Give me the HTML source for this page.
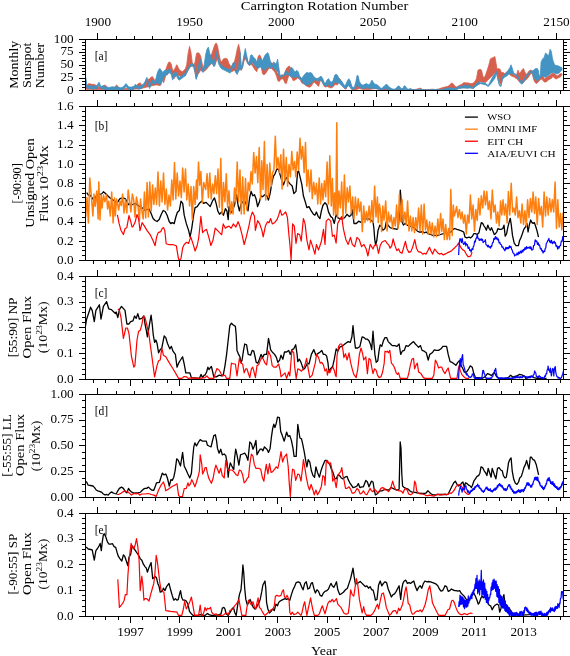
<!DOCTYPE html>
<html><head><meta charset="utf-8"><style>
html,body{margin:0;padding:0;background:#fff;width:570px;height:656px;overflow:hidden}
svg{display:block;will-change:transform;opacity:0.999}
text{font-family:"Liberation Serif",serif;fill:#000}
</style></head><body>
<svg width="570" height="656" viewBox="0 0 570 656">
<rect width="570" height="656" fill="#fff"/>
<clipPath id="cpa"><rect x="85.5" y="39.44" width="478.20" height="50.96"/></clipPath>
<clipPath id="cpb"><rect x="85.5" y="106.5" width="478.20" height="154.00"/></clipPath>
<clipPath id="cpc"><rect x="85.5" y="276.4" width="478.20" height="102.90"/></clipPath>
<clipPath id="cpd"><rect x="85.5" y="394.4" width="478.20" height="103.10"/></clipPath>
<clipPath id="cpe"><rect x="85.5" y="513.3" width="478.20" height="103.10"/></clipPath>
<g clip-path="url(#cpa)">
<path d="M85.5,84.3 L86.4,86.4 L87.8,84.3 L89.2,83.6 L91.3,84.3 L93.4,84.3 L95.5,85.0 L97.6,86.4 L99.0,87.1 L101.1,87.8 L103.2,85.7 L105.4,85.0 L106.8,87.1 L108.2,88.5 L110.3,88.8 L113.1,88.5 L115.2,86.4 L116.6,85.0 L118.0,86.4 L120.1,88.5 L122.9,88.8 L125.7,88.5 L128.5,88.5 L131.3,88.5 L134.1,87.8 L136.2,85.7 L138.3,83.6 L140.4,82.9 L141.8,85.7 L143.2,86.4 L144.6,83.6 L146.8,80.1 L148.2,79.4 L149.6,78.7 L151.0,77.3 L152.4,76.6 L153.8,78.7 L155.2,81.5 L156.6,81.5 L158.0,80.1 L159.4,78.7 L160.0,70.3 L160.8,78.0 L161.4,75.9 L162.2,76.6 L162.8,74.5 L163.6,75.2 L164.2,71.7 L165.6,70.3 L167.0,66.1 L168.4,62.6 L169.8,61.9 L171.2,64.0 L172.6,70.3 L174.0,70.3 L175.4,67.5 L176.8,64.7 L178.2,67.5 L179.6,70.3 L181.1,71.0 L182.5,71.7 L183.9,70.3 L185.3,68.9 L186.7,64.7 L188.1,53.4 L189.5,46.4 L190.9,52.0 L192.3,63.3 L193.7,66.1 L195.1,61.9 L196.5,53.4 L197.9,52.7 L199.3,53.4 L200.7,56.2 L202.1,63.3 L203.5,70.3 L204.9,68.9 L206.3,60.5 L207.7,56.2 L209.1,57.6 L210.5,56.2 L211.9,53.4 L213.3,49.2 L214.7,45.0 L216.1,42.9 L217.5,45.7 L218.9,53.4 L220.4,60.5 L221.8,61.9 L223.2,59.1 L224.6,58.4 L226.0,58.4 L227.4,59.1 L228.8,63.3 L230.2,65.4 L231.6,67.5 L233.0,63.3 L234.4,61.9 L235.8,56.2 L237.2,49.2 L238.6,44.3 L240.0,50.6 L241.1,64.7 L242.1,67.5 L243.5,59.1 L244.9,54.1 L246.3,56.2 L247.7,61.2 L249.1,64.0 L250.5,59.1 L251.9,61.2 L253.3,64.7 L254.7,65.4 L256.1,66.8 L258.2,56.2 L259.6,54.8 L261.1,57.6 L262.5,62.6 L263.9,64.0 L265.3,66.1 L267.4,67.5 L269.5,64.7 L270.9,62.6 L272.6,63.3 L274.0,64.7 L275.4,68.2 L276.8,72.4 L278.2,73.8 L279.6,76.6 L281.0,75.2 L282.4,74.8 L283.8,75.9 L285.2,71.7 L286.6,68.2 L288.0,66.8 L289.4,66.1 L290.8,68.2 L292.2,72.4 L293.6,73.8 L295.0,75.2 L296.4,75.6 L297.8,75.2 L299.2,76.6 L300.6,77.3 L302.0,78.7 L303.9,79.4 L306.0,80.1 L308.1,80.8 L310.2,81.5 L312.3,80.1 L314.4,78.0 L316.5,78.7 L318.6,80.1 L320.0,78.0 L321.4,78.0 L322.8,80.1 L324.2,84.3 L325.6,84.3 L327.0,81.5 L328.7,80.1 L330.1,82.9 L331.9,83.6 L333.3,81.5 L334.7,77.3 L336.1,76.6 L337.5,77.3 L338.9,78.0 L340.4,79.4 L341.8,82.2 L343.2,85.0 L344.6,87.1 L346.0,86.4 L347.4,82.2 L348.8,80.1 L350.2,82.2 L351.6,87.1 L353.0,88.5 L354.4,88.5 L355.8,84.3 L357.2,78.0 L358.2,78.7 L359.3,83.6 L360.7,85.7 L362.1,86.4 L363.5,86.4 L364.9,85.7 L366.3,85.0 L367.7,85.7 L369.1,86.4 L370.5,84.3 L371.9,82.2 L373.3,84.3 L374.7,85.7 L376.1,85.7 L377.5,86.4 L378.9,87.4 L380.4,88.5 L381.8,89.2 L383.2,88.5 L384.6,87.1 L386.0,85.7 L387.4,86.4 L388.8,87.4 L390.2,88.5 L391.6,89.2 L393.0,89.6 L394.4,89.6 L395.8,89.2 L397.2,87.8 L398.6,86.4 L400.0,89.6 L414.0,89.6 L416.8,89.2 L419.6,88.2 L421.1,88.5 L422.5,89.6 L428.1,89.6 L432.3,89.2 L436.5,89.6 L439.3,88.8 L442.1,87.8 L444.9,87.1 L447.7,86.4 L449.8,85.0 L451.2,83.2 L452.6,83.2 L454.0,85.0 L455.4,86.4 L456.8,87.1 L458.9,85.7 L461.8,84.3 L463.9,82.6 L466.0,82.9 L468.1,82.9 L470.2,83.6 L472.3,83.6 L474.4,82.2 L476.5,78.7 L477.9,70.3 L479.3,69.6 L480.0,69.3 L481.5,70.1 L483.0,76.8 L484.5,77.5 L486.0,73.8 L487.5,69.3 L488.9,64.8 L490.4,58.9 L491.9,58.1 L493.4,57.4 L494.9,56.6 L496.1,63.4 L497.1,69.3 L498.6,68.6 L500.1,69.3 L501.6,73.0 L503.1,72.3 L504.6,73.8 L506.1,72.3 L507.6,71.6 L509.1,70.1 L510.6,72.3 L512.1,73.8 L513.6,74.5 L515.0,76.0 L516.5,75.3 L518.0,70.1 L519.5,73.8 L521.0,71.6 L522.5,69.3 L523.5,68.6 L524.7,71.6 L526.2,74.5 L527.7,73.0 L529.2,70.8 L530.7,70.1 L532.2,70.8 L533.7,73.8 L535.2,77.5 L536.7,78.3 L538.2,77.5 L539.6,78.3 L541.1,76.8 L542.6,75.3 L544.1,79.0 L545.6,78.3 L547.1,76.8 L548.6,76.0 L550.1,75.3 L551.6,73.8 L553.1,73.0 L554.6,73.8 L556.1,75.3 L557.5,76.0 L559.0,74.5 L560.5,73.8 L562.0,73.8 L562.0,74.5 L560.5,76.8 L559.0,77.5 L557.5,78.3 L556.1,79.0 L554.6,78.3 L553.1,76.0 L551.6,78.3 L550.1,79.0 L548.6,79.8 L547.1,81.2 L545.6,82.0 L544.1,82.0 L542.6,79.8 L541.1,79.0 L539.6,80.5 L538.2,82.0 L536.7,83.5 L535.2,82.7 L533.7,79.8 L532.2,73.0 L530.7,73.8 L529.2,76.0 L527.7,78.3 L526.2,79.8 L524.7,80.5 L523.2,82.7 L521.8,83.5 L520.3,82.7 L518.8,81.2 L517.3,79.0 L515.8,78.3 L514.3,77.1 L512.8,76.5 L511.3,76.0 L509.8,74.5 L508.3,73.0 L506.8,74.5 L505.4,76.0 L503.9,76.8 L502.4,79.0 L500.9,84.2 L499.4,82.7 L497.9,76.0 L496.4,72.3 L494.9,73.0 L493.4,74.5 L491.9,76.0 L490.4,77.5 L488.9,79.0 L487.5,80.5 L486.0,82.0 L484.5,82.7 L483.0,82.0 L481.5,82.0 L480.0,81.2 L479.3,84.3 L477.2,85.0 L474.4,86.4 L470.2,87.8 L463.2,87.8 L456.1,88.2 L449.1,88.8 L442.1,90.2 L400.0,90.2 L398.6,89.9 L390.2,89.9 L386.0,89.9 L381.8,89.9 L378.9,89.2 L376.1,88.5 L373.3,88.8 L369.1,89.6 L364.9,89.6 L362.1,89.2 L359.3,88.5 L356.5,89.6 L353.7,89.9 L351.6,89.2 L350.2,87.1 L348.8,84.3 L347.4,86.4 L346.0,89.2 L344.6,88.5 L343.2,86.4 L341.8,82.9 L340.4,81.5 L338.9,81.5 L337.5,85.0 L335.4,84.3 L333.3,86.4 L331.9,87.8 L329.8,87.8 L328.4,87.1 L327.0,86.4 L325.6,87.1 L324.2,86.4 L322.8,83.6 L321.4,80.1 L320.0,81.5 L318.6,86.4 L316.5,84.3 L314.4,82.2 L313.0,82.9 L311.6,85.7 L310.2,87.1 L308.8,87.1 L307.4,86.4 L306.0,85.7 L304.6,84.3 L303.2,83.6 L301.8,82.9 L300.4,80.1 L298.9,78.7 L297.5,78.0 L296.1,79.4 L294.7,80.1 L293.3,80.8 L291.9,78.0 L290.5,75.9 L289.1,75.2 L287.7,78.7 L286.3,83.6 L284.9,82.9 L283.5,79.4 L282.1,78.7 L280.7,79.4 L279.3,81.5 L277.9,80.8 L276.5,75.9 L275.1,72.4 L273.7,71.0 L272.3,68.9 L270.9,68.2 L269.5,68.2 L268.1,69.6 L266.7,71.7 L265.3,73.8 L263.9,74.8 L262.5,73.8 L261.1,66.1 L259.6,64.7 L258.2,66.1 L256.8,71.7 L255.4,70.3 L254.0,68.2 L252.6,66.1 L251.2,64.0 L249.8,65.4 L248.4,64.7 L247.0,61.9 L245.6,59.1 L244.2,60.5 L242.8,66.1 L241.4,70.3 L240.0,69.6 L238.6,70.3 L236.5,73.1 L234.4,70.3 L231.6,71.7 L228.8,71.0 L226.0,70.3 L223.2,68.2 L220.4,64.7 L217.5,57.6 L214.7,66.1 L211.9,63.3 L209.1,66.1 L206.3,69.6 L203.5,71.7 L200.7,70.3 L197.9,74.5 L196.2,78.7 L195.1,73.1 L193.7,66.1 L190.9,66.1 L188.1,70.3 L185.3,75.2 L182.5,75.9 L179.6,75.9 L176.8,74.5 L174.0,78.7 L171.2,72.4 L168.4,73.1 L165.6,75.9 L163.6,82.9 L162.8,78.7 L161.4,82.9 L160.8,85.0 L160.0,85.7 L158.0,85.0 L155.2,85.0 L152.4,85.7 L149.6,86.4 L146.8,87.1 L143.9,87.8 L141.1,88.5 L134.1,89.2 L127.1,89.6 L113.1,89.6 L99.0,89.6 L85.5,89.2 Z" fill="#d6604d" stroke="#d6604d" stroke-width="0.8" stroke-linejoin="round"/>
<path d="M85.7,77.3 L86.7,84.3 L87.8,86.4 L89.2,85.0 L90.6,85.7 L92.7,86.4 L94.8,85.7 L96.2,86.4 L97.6,84.3 L99.0,82.2 L100.2,85.0 L101.6,86.4 L103.0,85.7 L104.6,86.4 L106.8,87.1 L108.9,87.4 L111.0,87.1 L113.1,86.8 L115.2,87.4 L116.6,86.4 L118.0,87.1 L120.1,87.8 L122.2,87.4 L124.3,85.7 L126.0,83.6 L127.1,85.0 L129.2,87.1 L131.3,87.1 L133.4,86.4 L135.5,84.3 L137.2,86.0 L139.0,86.4 L141.1,85.7 L143.2,84.3 L145.1,81.5 L146.8,77.3 L148.2,81.5 L149.6,85.7 L151.0,82.2 L152.4,80.1 L154.5,81.5 L155.9,78.7 L157.3,73.1 L158.7,69.6 L160.0,68.5 L161.4,70.6 L162.9,72.7 L164.3,70.6 L165.6,70.0 L167.0,70.6 L168.4,69.6 L169.8,68.9 L171.2,71.0 L172.6,75.2 L174.0,73.8 L175.4,71.7 L176.8,73.1 L178.2,75.9 L179.6,77.3 L181.1,75.9 L182.5,75.2 L183.9,73.8 L185.3,73.1 L186.7,70.3 L188.1,68.2 L189.5,65.4 L190.9,64.0 L192.3,63.5 L193.7,64.0 L195.1,68.9 L196.2,75.9 L197.2,71.7 L198.6,66.1 L200.0,59.1 L201.4,66.1 L202.8,68.9 L204.2,64.7 L205.6,54.8 L207.0,49.2 L208.4,47.1 L209.8,53.4 L211.2,57.6 L212.6,60.5 L214.0,63.3 L215.4,56.2 L216.1,51.3 L217.3,54.8 L218.7,60.5 L220.1,64.0 L221.8,66.1 L223.2,66.1 L224.6,67.5 L226.0,68.2 L227.4,68.9 L228.8,69.6 L230.2,70.3 L231.6,66.1 L233.0,63.3 L234.4,62.6 L235.8,69.6 L237.2,71.7 L238.6,67.5 L240.0,52.0 L241.1,66.1 L242.1,68.2 L243.5,57.6 L245.3,48.5 L246.3,53.4 L247.7,60.5 L249.1,64.7 L250.5,55.5 L251.9,54.8 L253.3,56.9 L255.4,59.1 L256.8,61.9 L258.2,60.5 L259.6,57.6 L261.1,59.8 L262.5,60.5 L263.9,57.6 L265.3,54.8 L266.7,53.4 L267.8,52.7 L268.8,54.8 L269.8,59.1 L270.9,63.3 L272.3,65.4 L273.7,61.9 L275.1,63.3 L276.2,64.0 L277.6,59.1 L278.6,66.1 L280.0,75.2 L281.4,75.9 L282.8,75.2 L284.2,74.5 L285.6,71.0 L287.0,71.7 L288.4,73.8 L289.8,71.0 L291.2,67.5 L292.6,68.2 L294.0,71.0 L295.4,71.7 L296.8,70.3 L298.2,71.7 L299.6,75.9 L301.1,78.7 L302.5,77.3 L304.6,74.5 L306.7,72.4 L308.8,73.1 L310.2,72.4 L311.6,73.1 L313.0,75.2 L314.4,77.3 L316.5,78.7 L318.6,78.0 L320.0,76.6 L321.4,76.6 L322.8,78.7 L324.2,82.9 L325.6,82.9 L327.0,80.1 L328.7,78.7 L330.1,81.5 L331.9,82.2 L333.3,80.1 L334.7,75.2 L336.1,74.2 L337.5,75.2 L338.9,78.7 L340.4,80.1 L341.8,81.5 L343.2,83.6 L344.6,85.7 L346.0,84.3 L347.4,80.8 L348.8,78.7 L350.2,80.8 L351.6,85.7 L353.0,87.8 L354.4,87.1 L355.8,82.2 L357.2,75.2 L358.2,75.9 L359.3,81.5 L360.7,83.6 L362.1,85.0 L363.5,85.0 L364.9,84.3 L366.3,83.6 L367.7,84.3 L369.1,85.0 L370.5,82.9 L371.9,80.1 L373.3,82.2 L374.7,84.3 L376.1,84.3 L377.5,85.0 L378.9,86.4 L380.4,87.8 L381.8,88.5 L383.2,87.1 L384.6,85.7 L386.0,84.3 L387.4,85.0 L388.8,86.4 L390.2,87.8 L391.6,88.5 L393.0,89.2 L394.4,89.2 L395.8,88.5 L397.2,87.1 L398.6,85.7 L400.0,87.1 L401.4,88.5 L402.8,88.5 L404.2,85.7 L405.6,86.4 L407.0,88.8 L408.4,89.2 L410.5,88.5 L412.6,89.6 L415.4,89.9 L418.2,89.6 L421.1,89.2 L423.9,89.9 L428.1,89.9 L432.3,89.6 L435.1,89.6 L437.2,89.2 L439.3,89.9 L442.1,89.6 L444.9,88.8 L447.7,88.2 L450.5,87.8 L453.3,88.5 L456.1,88.2 L458.9,86.4 L461.8,86.4 L463.2,85.7 L464.6,85.0 L466.0,85.7 L467.4,86.4 L468.8,85.0 L470.2,85.7 L471.6,87.8 L473.0,87.1 L474.4,85.7 L475.8,84.3 L477.2,82.9 L478.6,82.2 L480.0,82.7 L483.0,82.7 L486.0,83.5 L488.2,85.7 L490.4,81.2 L492.7,76.8 L494.9,73.8 L496.4,71.6 L497.9,78.3 L499.4,84.2 L500.9,85.7 L502.4,76.8 L503.9,75.3 L505.4,73.8 L506.8,72.3 L508.3,70.1 L509.8,67.8 L511.0,64.8 L512.1,67.8 L513.6,73.0 L515.0,73.8 L516.5,74.5 L518.0,76.0 L519.5,79.0 L521.0,82.0 L522.5,81.2 L524.0,79.0 L525.5,76.8 L527.0,74.5 L528.5,73.0 L530.0,71.6 L531.4,71.6 L532.9,70.8 L534.4,69.3 L535.9,68.6 L537.4,68.6 L538.5,70.8 L539.3,77.5 L540.4,73.8 L541.1,61.9 L542.6,58.9 L544.1,57.4 L545.6,52.9 L547.1,54.4 L548.6,55.9 L550.1,49.2 L551.3,51.4 L552.3,57.4 L553.1,61.1 L554.6,64.8 L556.1,65.6 L557.5,65.6 L559.0,66.3 L560.5,67.1 L562.0,67.8 L562.0,70.1 L560.5,71.6 L559.0,73.0 L557.5,73.8 L556.1,73.8 L554.6,73.0 L553.1,72.3 L551.6,73.0 L550.1,73.8 L548.6,75.3 L547.1,76.0 L545.6,77.5 L544.1,76.8 L542.6,76.0 L541.1,76.8 L539.6,79.0 L538.2,79.8 L536.7,80.5 L535.2,79.8 L533.7,77.5 L532.2,72.3 L530.7,72.3 L529.2,73.8 L527.7,75.3 L526.2,77.5 L524.7,80.5 L523.2,82.7 L521.8,84.2 L520.3,82.7 L518.8,79.0 L517.3,76.8 L515.8,75.3 L514.3,74.5 L512.8,73.8 L511.3,73.8 L509.8,73.8 L508.3,74.5 L506.8,76.0 L505.4,76.8 L503.9,77.5 L502.4,79.8 L500.9,86.5 L499.4,85.7 L497.9,79.8 L496.4,73.0 L494.9,78.3 L492.7,81.2 L490.4,84.2 L488.2,86.5 L486.0,85.0 L483.0,84.2 L480.0,83.5 L478.6,84.3 L475.8,86.4 L473.0,88.8 L470.2,87.8 L467.4,88.2 L463.2,87.8 L458.9,88.5 L456.1,89.9 L447.7,89.9 L442.1,90.2 L428.1,90.2 L414.0,90.2 L408.4,90.2 L405.6,88.8 L402.8,90.2 L400.0,89.2 L398.6,89.2 L395.8,89.6 L393.0,89.9 L390.2,89.6 L387.4,89.2 L384.6,88.8 L381.8,89.6 L378.9,89.2 L376.1,88.8 L374.7,88.5 L373.3,88.2 L371.9,87.8 L370.5,88.5 L369.1,88.5 L367.7,87.8 L366.3,87.8 L364.9,88.5 L363.5,88.5 L362.1,88.5 L360.7,87.8 L359.3,87.1 L357.9,85.7 L356.5,85.7 L355.1,88.5 L353.7,89.2 L352.3,89.2 L350.9,88.5 L349.5,86.4 L348.1,85.7 L346.7,87.1 L345.3,88.5 L343.9,87.8 L342.5,86.4 L341.1,85.0 L339.6,83.6 L338.2,82.9 L336.8,82.9 L335.4,81.5 L334.0,82.9 L332.6,85.7 L331.2,86.4 L329.8,85.7 L328.4,84.3 L327.0,85.7 L325.6,86.4 L324.2,85.0 L322.8,82.9 L321.4,80.8 L320.0,80.1 L318.6,80.8 L316.5,80.8 L314.4,80.1 L313.0,80.8 L311.6,82.9 L310.2,84.3 L308.8,84.3 L307.4,85.0 L306.0,85.0 L304.6,84.3 L303.2,82.9 L301.8,80.8 L300.4,79.4 L298.9,78.0 L297.5,77.3 L296.1,76.6 L294.7,77.3 L293.3,77.3 L291.9,76.6 L290.5,76.6 L289.1,75.2 L287.7,74.5 L286.3,74.5 L284.9,75.2 L283.5,75.9 L282.1,76.6 L280.7,77.3 L279.3,75.9 L277.9,72.4 L276.5,70.3 L275.1,68.9 L273.7,68.9 L272.3,66.1 L270.9,68.2 L269.5,67.5 L268.1,66.8 L266.7,68.2 L265.3,69.6 L263.9,70.3 L262.5,68.9 L261.1,66.8 L259.6,67.5 L258.2,68.2 L256.8,67.5 L255.4,66.1 L254.0,64.7 L252.6,62.6 L251.2,61.9 L249.8,65.4 L248.4,64.0 L247.0,61.9 L245.6,54.8 L244.2,57.6 L242.8,66.1 L241.4,69.6 L240.0,68.9 L238.6,71.0 L237.2,74.5 L235.8,72.4 L234.4,66.1 L233.0,66.8 L231.6,69.6 L230.2,73.1 L228.8,72.4 L227.4,71.7 L226.0,71.0 L224.6,70.3 L223.2,69.6 L221.8,68.9 L220.1,66.8 L218.7,64.0 L217.3,58.4 L216.1,55.5 L215.4,60.5 L214.0,66.8 L212.6,64.0 L211.2,62.6 L209.8,64.7 L208.4,66.1 L207.0,67.5 L205.6,68.2 L204.2,69.6 L202.8,72.4 L201.4,69.6 L200.0,62.6 L198.6,70.3 L197.2,75.2 L196.2,79.4 L195.1,72.4 L193.7,66.8 L192.3,66.1 L190.9,66.1 L189.5,67.5 L188.1,70.3 L186.7,73.1 L185.3,75.9 L183.9,76.6 L182.5,78.0 L181.1,78.7 L179.6,80.1 L178.2,79.4 L176.8,76.6 L175.4,74.5 L174.0,77.3 L172.6,80.1 L171.2,74.5 L169.8,72.4 L168.4,73.1 L167.0,75.2 L165.6,73.8 L164.3,76.6 L162.9,79.4 L161.4,82.9 L160.0,84.7 L158.7,83.6 L157.3,82.9 L155.9,82.9 L154.5,84.3 L152.4,82.9 L151.0,85.0 L149.6,88.5 L148.2,84.3 L146.8,80.1 L145.1,84.3 L143.2,87.1 L141.1,88.5 L139.0,89.2 L137.2,88.8 L135.5,87.1 L133.4,89.2 L131.3,89.9 L129.2,89.9 L127.1,87.8 L126.0,86.4 L124.3,88.5 L122.2,90.2 L120.1,90.4 L118.0,89.9 L116.6,89.2 L115.2,90.2 L113.1,89.6 L111.0,89.9 L108.9,90.2 L106.8,89.9 L104.6,89.2 L103.0,88.5 L101.6,89.2 L100.2,87.8 L99.0,85.0 L97.6,87.1 L96.2,89.2 L94.8,88.5 L92.7,89.2 L90.6,88.5 L89.2,87.8 L87.8,89.2 L86.7,87.1 L85.7,80.1 Z" fill="#4393c3" stroke="#4393c3" stroke-width="0.8" stroke-linejoin="round"/>
</g>
<g clip-path="url(#cpb)" fill="none" stroke-linejoin="round">
<path d="M86.7,192.7 L88.4,195.2 L90.1,195.2 L92.7,198.7 L94.4,201.2 L96.1,196.1 L98.7,194.0 L101.2,194.4 L103.4,191.8 L105.5,193.5 L107.2,195.2 L109.8,197.8 L112.3,199.5 L114.9,201.2 L116.6,203.8 L118.3,201.2 L120.0,198.7 L122.6,197.8 L125.1,198.7 L126.8,201.2 L128.5,204.6 L130.2,203.8 L132.0,204.6 L133.0,204.4 L135.0,203.4 L137.0,204.8 L139.0,206.1 L141.0,206.9 L143.1,208.5 L145.1,210.5 L147.1,209.5 L149.1,208.9 L151.1,213.5 L153.1,218.5 L155.1,220.5 L157.1,221.5 L159.2,219.5 L161.2,214.5 L163.2,210.5 L165.2,211.5 L167.2,215.5 L169.2,221.5 L170.8,223.6 L172.2,222.6 L174.2,223.6 L175.7,217.5 L177.3,212.5 L179.3,210.5 L181.0,201.2 L182.7,203.3 L184.2,215.2 L186.4,223.9 L188.6,230.4 L190.1,236.9 L191.8,228.2 L193.6,215.2 L195.1,207.7 L197.2,206.6 L199.4,203.3 L201.6,201.2 L203.7,203.3 L205.9,202.3 L208.1,204.4 L210.2,206.6 L212.4,201.2 L214.5,197.9 L216.1,203.3 L217.8,210.9 L219.5,214.2 L221.7,212.0 L223.4,215.2 L225.4,208.7 L226.9,210.9 L228.2,219.6 L229.0,206.6 L230.7,213.1 L232.2,210.9 L234.4,205.5 L236.6,194.7 L238.1,205.5 L239.4,210.9 L240.9,204.4 L242.4,202.3 L244.2,200.1 L246.3,204.4 L248.0,210.9 L249.6,197.9 L251.1,191.4 L252.8,195.8 L254.5,194.7 L256.1,199.0 L257.6,206.6 L259.3,202.3 L261.0,195.8 L262.5,196.8 L264.7,194.7 L266.9,195.8 L268.4,200.1 L270.1,193.6 L271.9,182.8 L273.4,176.3 L274.9,174.1 L277.0,168.7 L278.7,169.8 L280.2,175.2 L281.8,180.6 L283.5,184.9 L285.2,179.5 L286.7,177.4 L288.3,181.7 L290.0,183.9 L292.2,186.0 L293.9,193.6 L296.0,191.4 L297.6,171.9 L298.6,170.9 L300.4,178.4 L301.9,184.9 L303.4,195.8 L305.1,201.2 L306.9,207.7 L309.0,206.6 L311.2,210.9 L313.4,214.2 L314.9,215.2 L316.4,212.0 L318.1,216.3 L319.9,218.5 L321.4,210.9 L322.9,205.5 L325.0,202.7 L326.9,205.0 L328.5,211.9 L330.8,216.6 L332.4,217.7 L334.3,223.5 L336.1,214.3 L337.7,217.7 L340.1,218.9 L342.4,218.9 L344.7,217.7 L347.0,214.3 L349.3,216.6 L350.9,215.4 L352.3,209.6 L354.0,223.5 L356.3,223.5 L358.6,221.2 L360.9,222.4 L362.5,218.9 L364.9,218.9 L367.2,218.9 L369.5,218.9 L373.0,221.7 L373.9,228.5 L374.7,238.8 L375.6,244.8 L376.8,240.5 L378.1,230.2 L379.8,225.1 L381.5,226.8 L382.9,230.2 L385.0,228.5 L386.3,221.7 L388.0,225.1 L390.1,227.7 L392.6,228.5 L395.2,228.9 L397.2,229.4 L398.6,224.3 L399.5,209.8 L400.3,190.1 L401.2,201.2 L402.0,221.7 L403.4,225.1 L405.1,223.4 L407.1,225.1 L409.7,226.0 L412.3,226.8 L414.8,228.5 L417.4,231.1 L419.1,232.0 L421.0,232.0 L422.7,231.6 L424.4,232.8 L426.1,232.0 L428.2,233.7 L430.4,234.5 L433.0,235.4 L435.5,235.4 L438.1,235.4 L440.6,234.5 L443.2,233.7 L445.8,232.8 L448.3,232.8 L450.9,232.0 L453.1,229.4 L454.8,228.5 L456.9,229.4 L459.4,230.2 L462.0,231.1 L463.7,232.0 L465.0,237.1 L466.8,237.9 L469.0,237.1 L470.7,237.9 L472.4,236.2 L473.8,233.7 L475.5,233.7 L477.2,234.5 L478.9,232.8 L480.1,227.7 L481.3,222.6 L482.7,223.4 L484.0,226.0 L485.2,227.7 L486.4,230.2 L487.8,225.1 L489.1,228.5 L490.3,230.2 L491.5,227.7 L492.9,231.1 L494.3,234.5 L495.5,233.7 L496.7,232.0 L498.0,228.5 L499.4,229.4 L501.1,229.4 L502.8,228.5 L504.0,225.1 L505.2,236.2 L506.6,233.7 L507.9,226.8 L509.3,221.7 L510.3,218.3 L511.3,225.1 L512.5,235.4 L514.2,243.1 L516.0,245.6 L517.0,245.6 L518.4,245.6 L519.6,240.5 L520.8,237.9 L522.1,234.5 L523.8,229.4 L525.5,226.8 L526.9,223.4 L528.1,232.0 L529.3,225.1 L530.7,220.0 L532.0,222.6 L533.2,223.4 L534.4,222.6 L535.8,226.8 L537.1,231.1 L538.5,237.1" stroke="#000" stroke-width="1.3"/>
<path d="M84.2,183.0 L85.6,217.0 L87.0,197.6 L88.4,223.0 L89.8,178.0 L91.2,194.2 L92.9,216.0 L94.0,194.0 L95.1,206.3 L96.8,191.0 L98.1,219.0 L98.8,182.0 L100.0,220.0 L101.2,194.5 L102.1,208.0 L103.5,195.0 L104.9,201.7 L106.5,195.0 L107.6,209.0 L108.7,201.2 L110.3,216.0 L111.7,192.0 L113.1,223.0 L114.5,198.0 L115.3,216.0 L116.5,199.0 L117.7,204.5 L118.7,210.0 L120.0,201.0 L121.3,205.5 L122.6,194.0 L124.0,213.0 L125.4,200.0 L126.8,213.0 L128.2,190.0 L129.6,200.9 L130.9,212.0 L132.3,194.0 L133.7,199.9 L135.0,217.0 L136.4,197.0 L137.8,203.7 L139.4,221.0 L140.5,199.0 L141.6,209.3 L143.2,219.0 L144.4,192.0 L145.7,218.0 L147.1,182.5 L148.4,217.0 L149.8,182.0 L151.2,211.0 L152.6,185.0 L153.9,204.5 L155.3,188.0 L156.6,204.5 L158.0,172.0 L159.4,206.0 L160.8,181.0 L162.1,202.0 L163.5,173.0 L164.9,204.5 L166.3,189.0 L167.6,210.0 L169.0,195.0 L170.4,206.0 L171.8,180.0 L173.1,200.0 L174.5,162.6 L175.8,199.0 L177.2,173.0 L178.6,196.0 L180.0,181.0 L181.3,197.6 L182.7,168.0 L184.1,192.0 L185.5,169.0 L186.8,200.0 L188.2,184.0 L189.6,206.0 L191.0,186.6 L192.3,219.6 L193.7,186.6 L195.1,204.5 L196.5,180.0 L197.2,199.0 L198.5,162.0 L199.8,185.3 L200.9,171.5 L202.3,203.0 L203.7,182.5 L205.7,189.5 L207.1,173.7 L208.4,197.7 L209.8,173.0 L211.2,199.0 L212.6,184.0 L213.9,193.6 L215.3,175.8 L216.6,193.6 L218.0,169.0 L219.4,207.3 L220.8,158.6 L222.1,214.0 L223.5,182.6 L224.9,201.8 L226.3,173.7 L227.6,207.3 L229.0,190.8 L230.4,214.0 L231.8,201.8 L233.1,214.0 L234.5,188.0 L235.8,201.8 L237.2,162.0 L238.6,201.8 L240.0,170.0 L241.3,214.0 L242.7,177.0 L244.1,214.0 L245.5,178.5 L246.8,210.0 L248.2,182.6 L249.6,190.8 L251.0,171.6 L252.3,184.0 L253.7,152.4 L255.1,173.0 L256.5,156.5 L257.8,182.6 L259.2,147.6 L260.6,199.0 L261.8,160.7 L263.0,189.5 L264.4,141.5 L265.7,200.0 L267.1,164.4 L268.4,197.3 L269.8,163.0 L271.2,186.3 L272.6,172.6 L273.9,169.9 L275.3,136.3 L276.6,168.5 L278.0,157.5 L279.4,172.6 L280.8,154.8 L282.1,189.0 L283.5,149.3 L284.9,180.8 L286.3,157.5 L287.6,186.3 L289.0,164.4 L290.4,176.7 L291.8,151.4 L293.1,169.9 L294.5,161.6 L295.8,176.7 L297.2,152.0 L298.6,169.9 L300.0,138.3 L301.3,158.9 L302.7,146.5 L304.1,172.6 L305.5,142.4 L306.8,186.3 L308.2,169.9 L309.6,191.8 L311.0,169.9 L312.3,198.7 L313.7,182.2 L315.1,194.6 L316.5,183.6 L317.8,204.0 L319.2,178.0 L320.6,204.0 L321.8,183.6 L323.0,200.0 L324.4,180.8 L325.7,196.8 L327.1,162.0 L328.4,204.0 L329.8,155.7 L331.3,206.0 L332.4,178.5 L333.6,215.0 L334.6,193.0 L335.8,215.0 L336.8,122.7 L337.6,217.0 L339.0,191.0 L340.3,208.0 L341.7,182.0 L343.0,219.0 L344.4,175.0 L345.8,213.0 L347.2,187.7 L348.5,202.0 L349.9,186.0 L351.3,213.0 L352.7,197.0 L354.0,219.0 L355.4,197.0 L356.8,215.0 L358.2,198.7 L359.5,211.5 L360.9,202.0 L362.3,231.6 L363.7,206.0 L365.0,222.4 L366.4,211.5 L367.7,220.6 L369.1,206.0 L370.5,222.4 L371.9,200.5 L373.2,222.4 L374.6,186.0 L376.0,217.0 L377.4,197.0 L378.3,222.4 L379.4,204.0 L380.5,211.2 L381.6,231.6 L382.8,206.0 L384.0,220.1 L385.7,201.0 L387.1,231.0 L388.4,212.0 L389.8,222.0 L391.2,215.0 L392.6,228.6 L393.9,217.6 L395.3,226.0 L396.6,205.0 L398.0,228.6 L399.4,194.3 L400.8,221.7 L402.1,199.8 L403.5,223.0 L404.9,212.0 L406.3,224.5 L407.6,201.0 L409.0,231.0 L410.4,216.0 L411.8,231.0 L413.1,217.6 L414.5,232.7 L415.8,217.6 L417.2,230.0 L418.6,208.0 L420.0,231.0 L421.3,205.0 L422.7,234.0 L424.1,204.0 L425.5,230.0 L426.8,220.0 L428.2,234.0 L429.6,221.7 L431.0,234.0 L432.3,223.0 L433.7,236.8 L435.1,226.0 L436.5,236.8 L437.8,219.0 L439.2,235.4 L440.6,213.5 L441.8,231.3 L443.0,219.0 L444.4,239.6 L445.7,224.5 L447.1,239.6 L448.5,228.6 L449.7,239.6 L450.8,189.5 L452.2,235.4 L453.3,205.0 L454.3,216.0 L455.3,212.5 L456.6,206.6 L458.0,217.6 L459.4,209.4 L460.8,219.0 L462.1,212.0 L463.5,223.0 L464.9,215.0 L466.3,234.0 L467.6,215.0 L469.0,223.0 L470.4,195.0 L471.8,219.0 L473.1,205.0 L474.5,231.3 L475.8,209.4 L477.2,220.4 L478.6,198.4 L480.0,215.0 L481.3,195.7 L482.7,208.0 L484.1,190.9 L485.5,205.0 L486.8,191.5 L488.2,209.4 L489.6,201.0 L491.0,219.0 L492.3,190.0 L493.7,212.0 L495.1,205.0 L496.5,223.0 L497.8,212.0 L499.2,226.0 L500.6,201.0 L501.8,215.0 L503.0,199.8 L504.4,215.0 L505.7,204.0 L507.1,223.0 L508.4,191.5 L509.8,215.0 L511.2,183.3 L512.6,212.0 L513.9,208.0 L515.3,215.0 L516.6,197.0 L518.0,217.6 L519.4,210.8 L520.8,223.0 L522.1,204.0 L523.5,224.5 L524.9,210.8 L526.3,226.0 L527.6,199.8 L529.0,217.6 L530.4,198.4 L531.8,212.0 L533.1,192.0 L534.5,213.5 L535.8,197.0 L537.2,224.5 L538.6,198.4 L540.0,215.0 L541.3,206.6 L542.7,227.0 L544.1,192.0 L545.5,216.0 L546.8,197.0 L548.2,215.0 L549.6,198.4 L551.0,212.0 L552.3,199.8 L553.7,212.0 L555.1,182.0 L556.5,228.6 L557.8,199.8 L559.2,227.0 L560.6,213.5 L561.8,230.0 L563.1,213.0 L564.3,228.0" stroke="#ff7f0e" stroke-width="1.5"/>
<path d="M117.4,214.9 L119.1,223.4 L120.9,230.2 L123.4,234.5 L125.1,228.5 L126.8,227.7 L129.0,215.7 L130.8,221.7 L132.0,226.8 L133.0,226.6 L135.0,222.6 L137.0,214.5 L138.6,218.5 L140.0,230.6 L142.1,222.6 L144.1,225.6 L147.1,230.6 L150.1,234.6 L153.1,240.7 L155.1,245.7 L156.7,236.6 L158.2,232.6 L160.8,231.6 L162.2,228.6 L163.6,227.6 L164.8,230.6 L166.2,243.7 L169.2,244.7 L173.2,244.7 L176.3,245.7 L178.3,257.8 L179.3,260.8 L181.0,258.5 L182.7,247.7 L184.2,244.5 L186.4,242.3 L188.6,243.4 L190.7,236.9 L192.9,243.4 L195.1,251.0 L197.2,245.5 L198.7,238.0 L200.9,216.3 L202.6,232.6 L204.8,230.4 L206.5,229.3 L208.7,236.9 L210.9,245.5 L213.0,240.1 L215.2,228.2 L217.4,230.4 L219.5,232.6 L221.7,234.7 L223.2,223.9 L225.4,228.2 L226.9,227.1 L229.0,226.1 L231.2,228.2 L233.3,223.9 L235.9,227.1 L238.1,221.7 L239.8,226.1 L242.0,234.7 L244.2,244.5 L246.3,236.9 L248.9,226.1 L250.6,217.4 L252.4,212.0 L254.5,216.3 L255.4,230.4 L257.6,220.6 L259.7,223.9 L261.9,230.4 L263.2,236.9 L265.4,226.1 L267.5,221.7 L269.0,222.8 L270.6,218.5 L272.3,223.9 L274.5,222.8 L277.0,219.6 L278.7,215.2 L280.2,209.8 L281.8,215.2 L283.5,214.2 L285.7,212.0 L287.4,217.4 L288.9,234.7 L290.0,245.5 L291.1,259.6 L292.6,223.9 L294.3,226.1 L296.0,243.4 L297.6,233.6 L299.7,234.7 L301.2,241.2 L303.4,218.5 L305.1,223.9 L306.9,240.1 L309.0,249.9 L310.5,240.1 L312.7,246.6 L314.9,254.2 L316.4,244.5 L318.6,249.9 L321.4,241.2 L323.5,229.3 L325.0,244.4 L326.2,221.2 L328.5,218.9 L330.8,221.2 L332.4,236.3 L334.3,235.1 L336.1,243.2 L337.7,223.5 L340.1,218.9 L341.7,216.6 L343.5,229.3 L345.9,239.7 L348.2,244.4 L350.5,237.4 L352.3,244.4 L354.7,246.7 L357.0,237.4 L359.3,239.7 L361.6,246.7 L363.9,244.4 L366.2,249.0 L367.9,256.0 L370.2,244.4 L373.0,249.0 L374.4,245.6 L375.6,244.8 L376.8,244.8 L378.5,253.3 L380.2,245.6 L381.9,242.2 L383.6,241.3 L385.3,240.5 L387.0,243.1 L388.7,244.8 L390.1,248.2 L391.8,245.6 L393.1,238.8 L394.9,245.6 L396.9,250.7 L398.6,249.0 L400.3,252.4 L402.0,253.3 L403.7,247.3 L405.4,241.3 L407.1,249.0 L408.9,252.4 L410.9,251.6 L412.6,247.3 L414.8,239.6 L416.5,248.2 L418.2,251.6 L421.0,252.4 L422.7,254.1 L424.4,253.3 L426.1,254.1 L427.8,250.7 L429.5,247.3 L430.9,250.7 L432.6,254.1 L434.7,249.0 L436.7,251.6 L438.1,253.3 L439.8,254.1 L441.5,253.3 L443.2,255.0 L444.9,254.1 L446.6,253.3 L448.3,252.4 L450.0,251.6 L451.7,250.7 L453.4,249.0 L455.1,247.3 L456.9,245.6 L458.6,243.1 L459.9,245.6 L461.3,248.2 L462.8,249.9 L464.5,250.7 L466.2,254.1 L468.0,256.7 L469.0,256.7 L470.7,255.9 L472.1,252.4" stroke="#ff0000" stroke-width="1.2"/>
<path d="M458.6,255.1 L459.3,242.6 L460.0,238.7 L460.7,239.2 L461.4,242.7 L462.2,238.3 L462.9,242.7 L463.7,244.4 L464.2,244.0 L465.1,241.7 L465.8,245.9 L466.3,243.5 L466.8,244.1 L467.4,244.6 L468.1,248.4 L469.0,247.1 L469.7,250.5 L470.5,249.8 L471.1,252.2 L472.0,248.7 L472.8,249.6 L473.4,246.0 L473.9,246.0 L474.6,241.2 L475.2,242.1 L476.1,238.2 L476.6,238.2 L477.3,234.3 L478.0,238.5 L478.7,238.5 L479.3,240.5 L480.0,239.0 L480.8,240.2 L481.4,238.8 L481.9,240.3 L482.5,239.3 L483.1,242.6 L483.9,241.8 L484.7,241.1 L485.4,239.7 L486.0,244.8 L486.8,245.1 L487.6,246.8 L488.3,245.2 L489.1,247.3 L490.0,246.7 L490.6,248.2 L491.2,245.9 L491.7,246.3 L492.4,243.0 L493.2,242.3 L493.9,238.3 L494.6,239.4 L495.4,236.6 L496.0,238.9 L496.8,237.4 L497.4,239.9 L498.3,239.0 L499.2,243.0 L499.9,242.4 L500.4,244.3 L501.3,244.8 L502.1,247.3 L502.9,246.8 L503.6,249.1 L504.3,249.1 L504.9,250.8 L505.8,247.4 L506.4,249.0 L507.0,247.4 L507.6,248.7 L508.1,247.6 L508.7,248.6 L509.3,245.8 L510.1,247.4 L510.9,246.3 L511.6,249.4 L512.1,249.8 L513.0,252.9 L513.9,253.3 L514.7,256.0 L515.5,254.8 L516.4,255.0 L517.1,252.9 L518.0,254.9 L518.7,252.0 L519.6,253.6 L520.4,251.0 L521.3,252.9 L522.1,250.2 L522.8,252.1 L523.5,249.4 L524.2,250.2 L525.0,247.6 L525.8,249.5 L526.5,246.6 L527.2,248.4 L528.1,247.2 L528.9,248.1 L529.6,247.0 L530.2,248.8 L530.9,246.7 L531.8,250.2 L532.3,249.8 L533.0,249.3 L533.6,245.6 L534.4,245.3 L535.2,239.8 L536.0,241.4 L536.7,240.9 L537.5,244.5 L538.2,242.7 L538.8,245.3 L539.5,244.9 L540.4,249.0 L541.2,248.4 L541.8,250.9 L542.4,250.3 L543.1,253.0 L543.8,251.1 L544.6,251.6 L545.3,248.2 L545.8,247.9 L546.3,243.3 L547.0,242.6 L547.9,240.1 L548.4,240.1 L548.9,238.4 L549.5,241.9 L550.0,240.9 L550.7,242.8 L551.5,240.3 L552.3,243.7 L552.9,242.1 L553.5,242.8 L554.2,241.2 L554.7,243.2 L555.4,242.6 L556.1,246.4 L556.9,245.7 L557.7,249.2 L558.2,246.6 L559.0,248.1 L559.7,246.1 L560.6,245.5 L561.3,241.0 L562.1,241.3 L562.8,236.7 L563.4,238.4" stroke="#0000ff" stroke-width="1.2"/>
</g>
<g clip-path="url(#cpc)" fill="none" stroke-linejoin="round">
<path d="M85.0,328.8 L86.6,319.2 L90.6,307.2 L92.2,310.4 L94.3,321.6 L95.9,310.4 L99.4,304.8 L101.0,319.2 L103.4,306.4 L106.6,301.6 L108.7,308.8 L111.4,309.6 L113.8,312.0 L115.4,313.6 L116.2,312.0 L117.8,317.6 L119.4,309.6 L121.5,306.4 L125.0,310.4 L126.9,324.0 L129.0,324.0 L130.6,321.6 L133.0,320.8 L134.6,316.0 L136.2,318.4 L137.8,313.6 L139.4,319.2 L141.8,318.4 L143.9,316.0 L145.0,324.0 L146.3,330.4 L147.4,336.8 L149.0,327.2 L151.1,315.2 L152.2,324.0 L153.3,335.2 L154.6,342.4 L155.9,340.0 L157.0,343.2 L158.6,352.8 L160.2,349.6 L161.8,348.0 L162.9,342.4 L164.2,336.0 L165.8,337.6 L167.4,343.2 L169.8,348.8 L171.4,346.4 L173.0,351.2 L175.4,354.4 L177.0,367.2 L178.6,363.2 L180.5,360.0 L182.6,356.8 L184.2,364.0 L185.8,372.8 L188.2,372.8 L189.8,372.8 L191.4,377.6 L199.4,378.4 L201.0,374.4 L202.6,377.6 L204.2,375.2 L205.0,375.2 L206.6,372.0 L207.9,367.2 L209.0,369.6 L210.1,368.0 L211.4,366.4 L212.7,372.0 L213.8,376.8 L216.2,376.8 L219.4,375.2 L221.8,376.0 L223.4,374.4 L225.0,365.6 L226.6,354.4 L228.2,340.0 L229.8,325.6 L231.4,323.2 L233.0,324.8 L235.4,326.4 L236.2,335.2 L237.0,350.4 L238.6,354.4 L239.9,356.8 L241.0,362.4 L242.1,360.0 L243.4,351.2 L244.7,344.0 L246.6,344.8 L248.2,354.4 L250.6,355.2 L252.2,350.4 L253.8,351.2 L254.9,356.0 L256.2,362.4 L257.8,363.2 L259.4,359.2 L261.0,354.4 L262.6,357.6 L264.2,354.4 L265.0,354.4 L266.6,354.4 L268.5,338.4 L269.8,344.8 L270.6,349.6 L272.2,352.0 L274.6,354.4 L276.5,357.6 L277.8,362.4 L279.7,360.0 L281.0,355.2 L282.9,359.2 L284.5,352.0 L286.6,352.0 L288.7,350.4 L290.3,354.4 L291.9,349.6 L293.8,348.8 L295.7,344.8 L297.0,353.6 L297.8,361.6 L299.4,359.2 L301.0,362.4 L302.1,365.6 L303.4,369.6 L305.0,368.0 L307.4,363.2 L309.0,364.0 L311.4,354.4 L313.8,349.6 L315.9,355.2 L317.8,353.6 L320.2,352.0 L321.8,350.4 L323.4,354.4 L325.0,354.4 L326.6,356.0 L327.9,362.4 L329.0,372.0 L330.6,368.8 L332.7,366.4 L334.3,359.2 L336.2,348.8 L337.8,351.2 L339.7,347.2 L341.8,346.4 L343.9,344.8 L345.8,343.2 L348.2,341.6 L350.3,342.4 L351.9,336.8 L353.0,325.6 L354.1,336.8 L355.4,348.0 L357.8,348.0 L359.9,346.4 L361.0,341.6 L362.1,336.8 L364.2,337.6 L365.8,339.2 L367.4,339.2 L369.0,340.8 L370.6,344.8 L371.7,349.6 L373.0,331.2 L373.8,341.6 L374.9,354.4 L376.2,362.4 L377.8,360.8 L379.1,350.4 L380.2,344.8 L381.8,346.4 L383.4,340.8 L385.0,337.6 L386.6,337.6 L388.2,341.6 L390.6,344.0 L392.2,345.6 L394.6,345.6 L397.0,346.4 L399.1,344.0 L400.7,354.4 L402.3,351.2 L404.2,350.4 L406.1,345.6 L408.2,346.4 L410.6,344.0 L413.5,341.6 L415.4,344.0 L417.0,345.6 L418.6,347.2 L420.5,345.6 L422.1,350.4 L424.2,351.2 L426.3,352.8 L428.2,360.0 L429.8,354.4 L432.2,352.8 L434.3,349.9 L436.2,350.4 L438.6,350.4 L441.0,348.8 L442.9,346.4 L445.0,346.4 L446.6,346.4 L448.2,354.4 L450.1,361.6 L452.2,362.4 L454.3,364.0 L455.9,365.3 L457.8,362.4 L459.4,360.8 L461.0,365.6 L462.6,368.0 L464.2,372.0 L466.6,372.0 L468.7,368.8 L470.3,365.9 L472.2,367.2 L473.8,373.6 L475.4,377.6 L478.6,377.6 L481.8,378.4 L485.0,376.8 L487.4,373.6 L489.5,374.4 L491.4,375.5 L493.0,373.9 L494.6,372.8 L496.2,376.0 L498.6,378.4 L504.2,378.4 L505.0,378.4 L508.2,377.6 L510.6,375.2 L512.7,377.1 L514.6,376.5 L517.0,376.0 L519.4,374.4 L521.8,374.9 L524.2,376.0 L525.8,378.4 L529.0,376.8 L531.4,376.0 L533.8,377.6 L537.0,378.4 L541.8,378.4 L546.6,378.4" stroke="#000" stroke-width="1.3"/>
<path d="M117.8,308.8 L119.4,310.4 L121.0,317.6 L123.4,338.4 L125.8,328.0 L127.4,328.0 L129.0,333.6 L131.4,356.0 L133.8,367.2 L134.9,365.6 L137.0,340.0 L138.6,331.2 L140.2,330.4 L141.8,324.8 L143.4,316.0 L145.0,317.6 L146.6,324.0 L149.0,335.2 L151.4,352.8 L154.6,376.8 L157.0,365.6 L158.6,360.8 L160.2,360.0 L161.8,348.0 L163.4,355.2 L165.8,356.8 L169.0,362.4 L173.0,368.8 L178.6,378.4 L181.8,378.4 L184.2,376.5 L186.3,376.8 L188.2,378.4 L191.4,377.9 L199.4,378.4 L205.0,377.6 L206.9,376.0 L209.0,378.4 L213.8,378.4 L215.4,372.8 L217.0,368.5 L219.4,370.4 L221.0,373.6 L222.6,376.0 L225.0,375.2 L226.6,378.4 L229.8,378.4 L231.4,363.2 L233.8,364.0 L235.4,364.0 L237.0,376.0 L239.4,358.4 L241.0,363.2 L242.6,364.0 L244.2,372.8 L245.8,368.8 L246.9,368.8 L248.2,372.8 L249.8,377.6 L251.4,368.8 L252.7,367.2 L253.8,371.2 L255.4,377.6 L257.0,365.6 L258.6,364.8 L260.2,360.8 L261.8,357.6 L263.4,359.2 L265.0,363.2 L266.6,364.8 L268.5,351.2 L270.6,356.0 L272.2,365.6 L273.8,367.2 L276.2,367.2 L278.6,364.0 L280.2,370.4 L281.0,376.8 L282.6,375.2 L285.0,372.8 L286.6,378.4 L288.7,372.0 L289.8,376.0 L291.9,350.4 L293.8,352.8 L294.6,366.4 L296.2,378.4 L297.8,368.8 L299.4,369.6 L301.5,371.2 L303.4,368.8 L305.0,364.8 L306.6,358.4 L308.2,368.8 L309.8,377.6 L312.2,375.2 L313.8,368.8 L315.4,362.4 L316.5,354.4 L318.6,357.6 L320.2,363.2 L321.8,362.4 L323.4,364.8 L325.0,371.2 L326.6,368.8 L327.4,375.2 L328.5,370.4 L329.8,372.8 L331.4,368.8 L333.0,367.2 L334.3,370.4 L335.4,375.2 L336.2,376.8 L337.0,356.0 L338.6,346.4 L340.2,344.0 L341.8,344.0 L342.9,349.6 L343.9,357.6 L345.5,353.6 L347.1,360.0 L349.0,352.8 L350.6,362.4 L352.2,368.8 L353.8,374.4 L356.2,377.6 L357.8,368.8 L359.4,354.4 L361.0,348.0 L362.6,353.6 L363.7,360.0 L365.8,356.8 L367.4,373.6 L369.0,358.4 L370.6,360.0 L371.7,367.2 L373.0,373.6 L374.6,368.8 L376.2,370.4 L377.5,375.2 L379.1,377.6 L381.0,376.8 L382.6,372.0 L384.2,363.2 L385.0,351.2 L386.6,352.0 L387.4,351.2 L388.5,352.8 L389.8,350.4 L391.4,363.2 L393.0,364.8 L394.6,368.0 L396.2,372.8 L397.5,374.4 L398.6,372.8 L400.2,378.4 L407.4,378.4 L408.7,373.6 L410.3,365.6 L411.9,359.2 L413.5,358.4 L414.6,368.8 L416.2,364.8 L417.3,363.2 L418.6,372.0 L421.0,373.6 L423.4,377.6 L425.0,378.4 L432.2,378.4 L433.8,375.2 L435.4,360.0 L437.0,363.2 L438.6,368.0 L440.2,367.2 L441.8,367.2 L443.4,371.2 L445.0,373.6 L446.6,370.4 L448.2,368.0 L449.5,373.6 L450.6,378.4 L457.0,378.4 L458.1,370.4 L459.1,365.6 L460.2,370.4 L461.8,374.4 L463.9,376.8 L465.8,378.4 L469.0,378.4" stroke="#ff0000" stroke-width="1.2"/>
<path d="M458.6,378.9 L459.0,369.9 L459.7,363.7 L460.3,358.6 L460.8,366.9 L461.4,361.3 L462.1,356.3 L462.6,354.5 L463.2,365.5 L463.7,365.6 L464.3,367.8 L464.8,369.5 L465.3,372.9 L465.9,372.8 L466.5,375.0 L467.1,373.6 L467.6,375.3 L468.2,375.5 L468.7,377.0 L469.2,376.8 L469.8,377.3 L470.4,377.3 L470.8,377.5 L471.2,376.3 L471.8,376.3 L472.3,373.9 L472.9,374.5 L473.6,374.8 L474.2,377.9 L474.8,378.4 L475.2,378.5 L475.7,377.8 L476.4,379.0 L476.8,377.9 L477.5,379.0 L478.1,378.2 L478.6,379.0 L479.2,377.8 L479.7,379.0 L480.2,377.8 L480.8,378.7 L481.3,377.9 L481.9,378.3 L482.3,374.4 L482.9,370.3 L483.6,370.5 L484.1,373.4 L484.8,374.4 L485.3,377.0 L485.9,377.8 L486.3,378.9 L486.9,378.0 L487.5,379.0 L488.0,378.1 L488.6,378.9 L489.1,378.1 L489.8,378.7 L490.4,377.8 L490.9,378.5 L491.4,378.3 L491.8,377.7 L492.3,376.1 L492.9,376.2 L493.5,372.9 L494.0,373.2 L494.6,370.1 L495.1,370.8 L495.7,368.4 L496.2,372.4 L496.7,374.5 L497.1,377.1 L497.8,377.0 L498.4,378.7 L498.8,377.9 L499.5,379.0 L500.1,377.7 L500.8,378.5 L501.3,378.0 L501.8,378.9 L502.2,377.8 L502.9,378.5 L503.5,378.1 L504.1,378.9 L504.8,377.8 L505.3,378.9 L505.7,377.9 L506.2,378.7 L506.7,378.1 L507.3,378.6 L507.8,378.2 L508.2,378.9 L508.8,377.9 L509.5,378.8 L509.9,378.2 L510.5,378.9 L511.1,378.0 L511.6,378.8 L512.3,377.8 L513.0,378.7 L513.6,377.4 L514.0,377.9 L514.4,377.1 L515.0,378.2 L515.6,376.6 L516.1,377.5 L516.5,376.7 L517.1,377.8 L517.6,376.5 L518.2,377.4 L518.8,376.8 L519.4,377.9 L520.1,376.6 L520.5,377.6 L521.0,376.9 L521.6,377.6 L522.0,376.8 L522.5,377.6 L523.2,375.8 L523.8,376.5 L524.5,375.8 L525.0,376.5 L525.7,376.5 L526.3,377.7 L526.9,376.7 L527.4,378.2 L528.1,376.9 L528.8,377.9 L529.2,376.5 L529.6,377.7 L530.1,376.2 L530.5,377.6 L530.9,376.7 L531.3,377.0 L532.0,376.1 L532.7,377.1 L533.3,375.0 L534.0,374.4 L534.7,370.9 L535.3,372.6 L535.8,373.0 L536.4,376.7 L537.0,376.4 L537.7,377.6 L538.3,376.5 L538.7,377.4 L539.1,375.6 L539.7,376.6 L540.4,376.7 L540.9,377.9 L541.3,377.5 L541.9,378.1 L542.5,377.4 L543.0,378.9 L543.7,377.8 L544.1,378.2 L544.7,375.9 L545.4,376.4 L546.1,373.6 L546.7,373.8 L547.1,370.2 L547.7,369.3 L548.1,366.0 L548.7,370.2 L549.2,369.9 L549.9,372.3 L550.4,368.0 L550.8,371.6 L551.4,376.0 L551.8,373.7 L552.4,368.9 L552.8,368.5 L553.3,369.3 L553.8,375.9 L554.2,370.7 L554.8,367.3 L555.3,366.6 L555.7,372.0 L556.2,374.2 L556.9,376.6 L557.5,376.8 L558.2,378.2 L558.7,377.2 L559.3,378.3 L559.9,377.8 L560.3,378.9 L561.1,378.0 L561.7,377.2 L562.1,375.3 L562.7,374.4 L563.3,371.4 L563.9,373.2" stroke="#0000ff" stroke-width="1.2"/>
</g>
<g clip-path="url(#cpd)" fill="none" stroke-linejoin="round">
<path d="M85.0,481.2 L86.6,482.0 L88.2,485.2 L90.6,485.5 L93.0,486.0 L94.6,487.6 L96.2,490.0 L97.8,490.8 L100.2,491.6 L101.8,492.4 L103.4,494.0 L105.0,494.8 L106.6,494.5 L108.2,495.1 L109.8,493.2 L111.4,491.9 L113.0,492.9 L114.6,493.5 L116.2,494.0 L117.8,490.8 L119.4,488.4 L121.5,487.1 L123.4,488.4 L125.3,491.6 L126.9,492.9 L128.5,488.4 L130.1,490.8 L132.2,492.4 L133.8,493.2 L135.9,492.9 L137.8,492.9 L140.2,492.4 L141.8,490.8 L143.4,489.2 L145.0,488.4 L146.6,488.4 L148.5,487.1 L149.8,488.4 L151.7,490.0 L153.8,490.3 L155.4,486.0 L156.5,482.8 L159.4,482.3 L161.0,477.2 L162.3,473.2 L163.9,474.8 L165.8,474.0 L167.4,478.0 L169.3,486.0 L170.9,479.6 L172.2,480.4 L173.8,477.2 L175.1,470.8 L176.7,458.8 L178.3,460.4 L180.5,466.0 L182.6,452.4 L184.2,466.0 L185.8,469.2 L187.9,474.0 L189.8,478.0 L191.4,473.2 L192.7,458.0 L193.8,446.8 L194.9,442.8 L196.5,446.0 L198.6,442.0 L200.2,439.6 L202.6,441.2 L205.0,441.2 L206.3,441.2 L207.4,445.2 L209.0,446.0 L211.1,446.8 L212.2,442.0 L213.8,435.6 L215.4,434.8 L216.5,440.4 L217.5,448.4 L219.1,453.2 L220.7,449.2 L222.3,454.8 L224.2,454.0 L225.8,455.6 L227.1,462.8 L228.2,477.2 L229.0,469.2 L230.3,462.8 L231.4,465.2 L233.0,468.4 L233.8,469.2 L234.6,458.0 L235.7,449.2 L237.0,454.8 L238.9,465.2 L240.5,454.8 L242.6,454.0 L244.7,453.2 L246.3,455.6 L247.9,460.4 L249.8,442.0 L251.4,443.6 L253.0,449.2 L254.6,445.2 L255.9,440.4 L257.0,454.8 L258.6,451.6 L260.2,449.2 L261.8,449.2 L262.9,450.8 L264.5,446.8 L265.0,447.6 L266.9,449.2 L268.5,452.4 L270.1,448.4 L271.4,437.2 L272.7,428.4 L273.8,424.1 L274.9,427.6 L276.2,423.6 L277.5,417.2 L279.4,417.7 L280.7,431.6 L282.3,435.6 L284.2,441.2 L285.5,436.4 L286.6,432.1 L288.2,436.4 L289.8,435.6 L291.4,440.4 L293.0,448.4 L294.1,456.4 L296.2,456.4 L297.0,440.4 L297.8,424.4 L298.9,431.6 L299.9,438.0 L301.5,438.8 L302.6,443.6 L304.2,451.6 L305.8,461.2 L306.9,466.8 L308.2,459.6 L309.8,462.0 L311.4,470.8 L313.0,475.6 L314.6,477.2 L315.9,466.8 L317.5,472.4 L319.4,477.2 L321.0,470.8 L322.6,466.0 L325.0,460.4 L326.6,460.4 L328.2,462.8 L329.8,464.4 L331.4,469.2 L333.0,472.4 L334.6,478.0 L336.2,478.8 L338.1,474.8 L339.7,475.6 L341.3,478.0 L342.9,478.8 L345.0,477.2 L347.1,476.4 L348.2,479.6 L349.8,482.8 L351.4,485.2 L353.0,487.6 L355.4,486.8 L357.0,486.0 L358.3,483.6 L359.9,487.6 L361.8,486.8 L363.4,486.8 L365.8,480.4 L367.4,482.0 L369.0,486.8 L371.4,481.2 L373.0,482.0 L374.3,490.0 L375.4,494.8 L377.0,494.0 L378.6,492.4 L380.2,490.8 L382.3,490.8 L385.0,489.2 L386.6,489.7 L389.0,490.0 L391.1,487.6 L393.0,488.4 L394.6,489.2 L396.2,490.0 L397.8,490.0 L399.1,489.2 L400.2,442.0 L401.0,448.4 L401.8,474.0 L402.6,486.0 L404.2,487.6 L406.1,488.4 L408.2,489.2 L409.8,490.8 L411.4,491.9 L413.5,492.4 L415.4,492.4 L417.0,492.9 L419.4,493.2 L421.8,493.5 L424.2,493.5 L425.8,493.2 L427.9,490.8 L429.5,492.4 L431.4,494.0 L433.0,494.8 L435.4,494.8 L437.8,494.5 L440.2,494.5 L442.6,494.5 L445.0,494.5 L446.6,494.5 L448.2,494.0 L449.8,490.8 L451.7,486.8 L453.8,482.8 L455.4,481.2 L457.0,484.4 L458.6,486.0 L460.2,485.2 L461.8,482.8 L462.9,482.0 L464.2,486.8 L465.5,482.8 L467.1,483.6 L468.7,485.2 L470.3,486.0 L471.4,487.6 L472.5,485.2 L473.8,481.2 L475.4,478.8 L477.0,476.4 L478.6,475.6 L479.9,473.2 L481.0,466.8 L482.6,467.6 L484.2,470.8 L485.8,473.2 L486.9,475.6 L488.2,468.4 L489.8,473.2 L491.1,477.2 L492.2,468.4 L493.3,471.6 L494.6,475.6 L495.9,478.8 L497.5,468.4 L499.1,467.6 L500.7,470.0 L502.3,470.8 L503.4,475.6 L505.0,478.0 L506.3,477.2 L507.4,470.8 L508.5,462.8 L509.8,459.6 L511.1,458.0 L512.2,470.8 L513.8,479.6 L515.4,483.3 L517.0,484.4 L518.6,482.0 L519.7,478.0 L521.3,476.4 L522.6,472.4 L523.9,467.6 L525.5,464.4 L526.6,460.4 L527.7,464.4 L529.0,469.2 L530.3,457.2 L531.4,457.2 L533.0,459.6 L534.6,460.4 L536.2,464.4 L537.3,469.2 L538.6,474.8" stroke="#000" stroke-width="1.3"/>
<path d="M117.0,494.5 L118.6,494.5 L121.0,493.2 L123.4,491.6 L125.0,490.8 L126.3,491.6 L127.9,491.9 L129.5,493.2 L131.4,495.1 L133.0,494.0 L134.6,493.5 L136.2,494.0 L137.8,493.2 L139.7,495.1 L141.8,494.0 L143.4,494.0 L145.0,494.0 L148.2,493.5 L151.4,494.5 L153.8,495.1 L156.2,496.4 L158.6,490.0 L161.0,485.2 L163.4,482.0 L165.0,486.8 L165.8,490.8 L168.2,489.2 L170.6,487.6 L173.0,486.0 L175.4,484.9 L177.0,483.6 L178.6,495.6 L180.2,496.7 L182.6,496.4 L184.2,488.7 L186.3,488.4 L187.9,482.8 L189.0,486.0 L190.6,483.6 L191.7,479.6 L193.3,482.8 L194.9,486.8 L196.5,482.0 L198.6,474.8 L199.4,470.8 L200.2,454.8 L201.8,464.4 L202.6,474.0 L204.2,470.8 L205.0,467.6 L206.3,467.6 L207.4,473.2 L209.0,478.8 L211.4,483.3 L213.0,478.8 L214.6,470.0 L215.9,465.2 L217.5,469.2 L219.1,473.2 L220.7,468.4 L222.3,475.6 L224.2,478.0 L225.8,460.4 L227.4,468.4 L228.7,470.8 L230.3,470.0 L232.2,470.0 L233.8,471.6 L236.2,474.8 L237.8,475.6 L239.4,470.0 L241.0,470.8 L242.6,474.8 L244.2,482.8 L245.8,481.2 L247.4,478.0 L248.5,477.2 L249.8,464.4 L251.4,454.0 L253.0,456.4 L254.3,464.4 L255.9,468.4 L258.6,468.4 L260.7,469.2 L262.3,477.2 L263.9,481.2 L265.0,472.4 L266.3,464.4 L267.9,474.0 L269.5,463.6 L271.1,472.4 L272.7,471.6 L274.6,469.2 L276.2,466.8 L277.8,468.4 L279.4,461.2 L281.0,451.6 L282.6,462.0 L284.2,457.2 L286.6,454.0 L288.2,466.8 L289.3,483.6 L290.3,496.4 L291.4,480.4 L292.5,469.2 L294.1,470.0 L295.7,480.4 L297.8,474.0 L299.4,474.8 L301.0,481.2 L302.6,467.6 L303.4,459.6 L304.7,466.8 L306.3,477.2 L307.9,485.2 L309.5,490.0 L311.1,484.4 L312.7,489.2 L314.3,494.8 L315.9,490.0 L317.5,494.8 L319.4,491.6 L321.3,486.8 L322.9,475.6 L324.5,477.2 L325.0,485.2 L326.3,461.2 L327.4,460.4 L329.0,463.6 L330.6,462.8 L331.7,468.4 L332.7,481.2 L334.3,478.0 L336.2,487.6 L337.8,475.6 L339.4,473.2 L340.7,471.6 L341.8,467.6 L342.9,475.6 L344.2,481.2 L345.5,488.4 L347.1,488.4 L349.0,486.8 L350.6,489.2 L352.2,493.2 L353.8,493.2 L355.4,491.6 L357.0,488.4 L358.6,490.0 L360.2,494.0 L361.8,493.2 L363.4,490.8 L365.3,494.0 L366.9,494.8 L368.5,491.6 L370.1,488.4 L371.4,490.8 L373.0,491.6 L374.6,489.2 L376.2,490.8 L377.8,493.2 L379.4,490.8 L381.0,488.4 L382.6,487.6 L384.2,488.4 L385.0,490.0 L386.6,490.0 L388.5,491.6 L390.6,488.4 L392.7,481.2 L393.8,485.2 L395.4,489.2 L397.0,490.0 L398.6,490.8 L400.2,490.8 L401.8,491.6 L402.9,493.2 L404.2,490.0 L405.5,488.4 L407.1,490.0 L408.7,494.0 L410.3,494.8 L411.9,494.0 L413.5,492.4 L414.6,481.2 L415.7,483.6 L416.7,490.8 L418.3,493.2 L420.2,494.0 L422.6,494.0 L424.7,494.8 L426.3,495.6 L427.9,495.6 L429.5,495.1 L431.4,495.6 L433.8,496.1 L435.9,495.1 L437.5,494.0 L439.4,494.8 L441.8,494.8 L445.0,494.0 L446.6,494.8 L447.9,494.5 L449.5,492.9 L451.1,493.5 L452.7,491.9 L454.3,490.0 L455.9,486.8 L457.8,484.9 L459.7,484.6 L461.3,486.0 L462.9,488.4 L464.5,491.6 L466.6,493.5 L468.2,494.5 L469.8,493.5" stroke="#ff0000" stroke-width="1.2"/>
<path d="M458.6,495.6 L459.2,490.5 L459.6,490.0 L460.4,486.3 L461.0,488.6 L461.6,489.4 L462.1,492.1 L462.8,488.5 L463.5,487.8 L463.9,487.9 L464.5,489.7 L464.9,486.3 L465.4,485.8 L466.0,485.8 L466.4,489.1 L467.1,489.5 L467.5,492.1 L468.0,490.7 L468.4,492.2 L468.8,491.1 L469.3,493.7 L469.8,492.4 L470.2,493.1 L470.9,490.4 L471.4,491.5 L471.8,490.0 L472.3,490.8 L472.9,488.7 L473.3,490.0 L473.8,488.1 L474.5,489.4 L474.9,486.6 L475.6,487.7 L476.3,485.6 L477.0,486.1 L477.7,484.1 L478.4,486.8 L479.0,485.6 L479.4,488.1 L480.0,487.8 L480.4,488.8 L480.9,488.3 L481.4,490.8 L481.8,490.0 L482.4,491.3 L482.8,491.1 L483.4,492.4 L483.9,490.7 L484.4,491.3 L485.0,489.1 L485.5,489.1 L486.1,487.1 L486.7,488.9 L487.1,487.2 L487.7,489.9 L488.1,488.6 L488.7,490.5 L489.2,489.5 L489.7,490.6 L490.3,488.7 L491.0,491.5 L491.6,490.7 L492.2,492.1 L492.8,490.3 L493.2,491.0 L493.8,489.1 L494.4,490.1 L495.0,488.1 L495.4,490.1 L496.0,487.8 L496.6,489.1 L497.3,485.6 L497.9,487.2 L498.4,484.5 L499.0,485.1 L499.6,483.5 L500.2,486.0 L500.9,484.7 L501.5,486.9 L502.2,485.6 L502.8,488.1 L503.2,487.7 L503.9,490.0 L504.5,488.7 L505.2,490.5 L505.6,488.5 L506.1,490.7 L506.6,489.1 L507.1,489.4 L507.6,486.8 L508.0,486.6 L508.6,484.9 L509.2,485.8 L509.7,484.5 L510.2,487.8 L510.6,486.5 L511.2,489.3 L511.9,488.8 L512.5,491.5 L513.0,490.2 L513.6,493.1 L514.2,491.5 L514.8,493.3 L515.4,491.9 L516.0,493.3 L516.6,491.4 L517.0,492.4 L517.5,490.7 L518.1,491.7 L518.6,489.7 L519.2,491.9 L519.7,490.4 L520.2,492.5 L520.9,489.9 L521.3,491.6 L521.9,489.6 L522.3,490.8 L522.9,489.8 L523.3,491.9 L523.7,489.3 L524.2,490.6 L524.9,487.5 L525.4,488.3 L525.9,485.6 L526.2,486.1 L526.9,482.9 L527.3,484.9 L527.9,482.7 L528.4,485.3 L528.9,483.1 L529.5,485.0 L529.9,484.9 L530.5,487.2 L531.2,485.3 L531.7,487.2 L532.3,484.2 L532.9,484.3 L533.4,481.4 L534.1,480.6 L534.6,477.7 L535.0,479.5 L535.6,477.2 L536.3,480.0 L536.9,477.0 L537.3,480.4 L537.8,477.0 L538.4,481.7 L539.1,481.4 L539.5,483.9 L539.9,482.7 L540.3,486.0 L541.0,485.6 L541.6,487.4 L542.2,486.1 L542.6,488.6 L543.1,487.7 L543.6,489.7 L544.0,487.3 L544.6,488.5 L545.0,485.9 L545.6,486.2 L546.1,483.4 L546.5,484.2 L547.1,479.8 L547.6,480.5 L548.2,478.0 L548.7,480.7 L549.2,477.6 L549.6,480.9 L550.0,479.7 L550.6,483.5 L551.2,482.0 L551.7,484.2 L552.1,481.5 L552.5,484.4 L553.0,481.8 L553.5,485.6 L554.2,483.6 L554.6,486.7 L555.0,485.1 L555.5,487.3 L556.0,486.4 L556.6,488.4 L557.0,486.7 L557.5,489.4 L558.2,488.2 L558.7,489.9 L559.2,487.6 L559.9,489.0 L560.5,486.5 L561.2,487.1 L561.6,484.1 L562.0,485.5 L562.5,482.1 L562.9,483.6 L563.3,481.0 L564.0,482.3" stroke="#0000ff" stroke-width="1.2"/>
</g>
<g clip-path="url(#cpe)" fill="none" stroke-linejoin="round">
<path d="M85.0,547.4 L86.6,547.4 L88.2,549.0 L90.6,549.5 L92.2,549.8 L93.3,555.4 L94.3,560.2 L95.9,550.6 L97.5,548.5 L99.1,545.8 L100.2,543.4 L101.3,550.6 L102.3,541.8 L103.4,534.6 L104.5,533.8 L105.8,537.0 L107.4,541.8 L109.0,544.2 L110.6,544.2 L112.5,543.7 L114.1,546.6 L115.7,547.4 L117.0,552.2 L118.3,556.2 L119.9,558.6 L121.8,561.0 L123.4,554.9 L124.7,556.2 L126.3,561.0 L127.9,565.8 L129.0,557.0 L130.6,554.6 L132.2,545.8 L133.8,548.2 L135.4,550.6 L137.0,553.0 L138.6,555.4 L140.2,558.6 L141.8,560.2 L143.4,564.2 L145.0,566.6 L146.3,568.2 L147.4,572.2 L149.0,567.4 L151.1,562.6 L152.7,578.6 L153.8,577.8 L154.9,576.2 L156.5,577.8 L157.8,583.4 L159.1,586.6 L160.2,592.2 L162.3,591.4 L163.4,588.2 L165.0,590.6 L166.6,586.6 L169.0,583.4 L170.6,589.8 L172.2,595.4 L173.8,600.2 L175.4,598.6 L177.0,600.2 L178.3,599.4 L179.4,594.6 L180.5,590.6 L181.8,597.8 L183.1,600.2 L184.7,600.2 L186.3,601.0 L187.9,604.2 L189.5,611.4 L191.4,613.8 L193.0,615.4 L197.8,615.4 L200.2,614.6 L202.6,615.4 L205.0,615.4 L207.4,613.5 L209.0,614.6 L211.4,615.4 L213.8,615.4 L216.2,615.1 L219.4,614.6 L221.0,613.8 L222.3,608.2 L223.9,607.4 L225.0,609.0 L226.1,613.8 L228.2,615.4 L230.3,612.2 L231.9,609.0 L233.5,607.4 L234.6,612.2 L236.2,615.4 L237.8,604.2 L239.4,594.6 L241.0,589.8 L242.1,577.0 L242.9,565.0 L243.7,572.2 L244.7,588.2 L245.8,599.4 L247.4,605.0 L249.0,601.8 L250.1,599.4 L251.7,603.4 L253.3,607.4 L254.9,609.0 L256.5,607.4 L258.6,603.4 L260.2,599.4 L261.8,591.4 L262.9,585.0 L265.0,581.0 L265.8,588.2 L266.6,602.6 L267.9,609.0 L269.5,613.0 L271.1,611.4 L272.7,609.0 L274.3,610.6 L275.9,604.2 L277.5,605.8 L278.6,602.6 L280.2,601.0 L281.8,600.2 L283.4,599.4 L285.0,598.6 L286.6,599.4 L288.2,598.6 L289.8,600.2 L291.4,594.6 L293.0,589.8 L294.6,586.6 L296.2,582.6 L298.3,581.8 L299.9,582.6 L301.5,586.6 L303.1,589.8 L304.7,583.4 L306.3,581.8 L307.9,589.0 L309.5,588.2 L311.1,583.4 L312.4,582.6 L313.8,588.2 L315.4,593.0 L317.0,589.8 L318.6,591.4 L320.2,595.4 L321.8,596.2 L323.4,593.0 L325.0,591.4 L326.9,590.6 L328.5,589.0 L329.8,585.8 L331.1,583.4 L332.2,585.8 L333.8,587.4 L335.4,584.2 L336.5,581.8 L337.8,589.8 L339.7,594.6 L341.3,593.8 L343.4,592.2 L345.5,589.8 L347.4,588.2 L349.0,583.4 L350.6,578.6 L351.9,573.0 L353.0,568.2 L354.1,576.2 L355.4,584.2 L357.0,583.4 L358.6,582.6 L360.2,581.5 L362.1,583.4 L363.7,585.0 L365.3,586.6 L366.9,585.8 L368.5,588.2 L370.1,586.6 L371.7,589.8 L373.0,589.8 L374.3,594.6 L375.4,600.2 L377.0,599.4 L378.6,585.0 L380.2,581.0 L381.8,585.8 L383.4,583.4 L385.0,581.8 L386.6,582.6 L388.2,589.0 L389.8,593.0 L391.4,597.0 L393.0,594.6 L394.6,593.8 L396.2,591.4 L397.8,588.2 L399.1,585.8 L399.7,591.4 L400.7,599.4 L401.8,589.0 L402.9,583.4 L404.2,581.0 L405.8,580.2 L407.4,583.4 L409.0,582.6 L410.6,583.4 L412.2,582.1 L413.8,581.0 L415.4,586.6 L417.0,590.6 L418.6,587.4 L420.2,585.8 L421.8,588.2 L423.4,583.4 L425.0,581.0 L426.9,581.8 L428.5,581.5 L430.6,581.8 L432.7,582.6 L434.6,583.4 L436.2,584.2 L437.8,585.8 L439.4,589.0 L441.0,591.1 L442.6,590.6 L443.9,588.2 L445.0,585.8 L446.6,586.6 L448.2,591.4 L449.8,590.6 L451.4,589.0 L453.0,589.8 L454.6,590.6 L456.2,590.6 L457.8,591.1 L459.7,590.6 L461.0,593.0 L462.6,594.6 L464.2,596.2 L465.8,598.6 L467.4,600.2 L469.0,601.0 L470.6,597.8 L472.2,594.6 L473.8,593.0 L475.4,596.2 L477.0,600.2 L478.3,604.2 L479.4,602.6 L481.0,597.8 L482.1,596.2 L483.4,597.8 L485.0,595.4 L486.3,596.2 L487.4,601.8 L489.0,605.0 L490.6,605.8 L492.2,609.8 L493.8,606.6 L495.4,605.0 L497.0,604.2 L498.6,605.0 L499.7,612.2 L501.0,608.2 L502.6,599.4 L503.9,594.6 L505.0,604.2 L506.6,605.0 L508.2,607.4 L509.8,609.0 L511.4,612.2 L513.0,613.8 L514.6,614.1 L517.0,613.8 L519.4,614.6 L522.6,615.1 L525.8,614.8 L529.0,614.6 L532.2,614.1 L534.6,613.8 L537.0,613.5 L538.6,613.8" stroke="#000" stroke-width="1.3"/>
<path d="M117.8,579.4 L119.4,607.4 L121.0,605.5 L122.6,603.4 L124.2,600.2 L125.3,594.6 L126.9,594.6 L127.9,575.4 L129.0,561.0 L130.1,551.4 L131.1,543.4 L132.2,546.6 L133.8,549.0 L135.4,544.2 L136.5,538.6 L137.8,546.6 L139.1,560.2 L140.2,590.6 L141.8,576.2 L142.9,585.0 L143.9,600.2 L145.0,598.6 L146.6,598.6 L149.0,601.0 L150.6,594.6 L152.2,589.0 L153.8,583.4 L154.9,573.8 L156.2,555.4 L157.5,562.6 L158.6,572.2 L159.7,581.8 L161.0,589.8 L162.6,591.4 L163.9,592.2 L165.0,602.6 L165.8,610.6 L170.6,611.4 L177.0,612.2 L178.6,615.4 L181.8,615.4 L183.4,609.0 L184.7,601.0 L186.3,609.0 L187.9,605.8 L189.5,602.6 L191.4,597.0 L193.0,605.8 L194.6,615.4 L198.6,615.4 L200.2,605.0 L201.3,613.8 L202.6,615.4 L203.9,612.2 L205.0,607.4 L206.3,610.6 L207.4,608.2 L209.0,609.0 L210.6,607.4 L211.7,612.2 L213.0,613.8 L214.6,614.6 L216.2,613.8 L217.8,615.4 L221.0,615.4 L223.4,615.1 L225.0,613.8 L226.6,613.0 L228.2,614.6 L229.8,610.6 L231.4,609.8 L233.0,609.0 L234.6,605.8 L236.2,604.2 L237.8,601.8 L238.9,599.4 L240.2,606.6 L241.8,615.4 L245.8,615.4 L246.9,607.4 L248.5,600.2 L249.8,602.6 L251.4,605.0 L253.0,601.8 L254.6,607.4 L255.9,609.0 L257.0,602.6 L258.1,597.8 L259.4,607.4 L261.0,609.0 L262.6,612.2 L264.2,614.6 L265.0,615.4 L266.9,613.8 L269.0,611.4 L271.1,609.8 L273.0,609.0 L274.3,605.8 L275.4,596.2 L277.0,595.4 L279.1,596.2 L281.0,595.4 L282.3,591.4 L283.4,589.8 L284.5,597.0 L285.8,597.8 L287.1,595.4 L288.2,597.8 L289.0,599.4 L289.8,612.2 L290.9,614.6 L292.2,612.2 L293.8,614.6 L296.2,613.8 L297.8,612.2 L299.4,613.8 L301.0,615.4 L302.1,612.2 L303.4,605.8 L304.7,601.8 L305.8,609.0 L306.9,615.4 L308.5,607.4 L310.6,597.8 L311.7,604.2 L313.0,610.6 L314.3,615.4 L317.8,615.4 L319.4,613.8 L321.0,609.0 L322.3,605.8 L323.4,609.0 L325.0,613.8 L326.3,609.0 L327.9,603.4 L329.5,601.0 L330.6,601.8 L332.2,599.4 L333.8,601.8 L335.4,600.2 L336.5,598.6 L337.8,604.2 L339.4,605.8 L341.0,607.4 L342.6,610.6 L344.2,613.5 L346.1,614.1 L348.2,613.5 L349.3,605.8 L350.6,589.8 L352.2,594.6 L353.8,596.2 L355.1,587.4 L356.4,578.6 L357.8,585.0 L359.4,599.4 L361.0,607.4 L362.1,613.0 L363.7,606.6 L365.0,613.0 L366.6,615.4 L368.5,615.1 L370.6,615.4 L372.7,613.8 L374.6,610.6 L376.2,606.6 L377.5,604.2 L378.6,609.0 L380.2,601.0 L381.8,593.8 L383.4,593.0 L385.0,600.2 L386.3,607.4 L387.9,611.4 L389.5,615.4 L391.1,613.8 L392.7,611.4 L394.3,610.6 L395.4,610.6 L397.0,613.8 L398.6,608.2 L399.7,610.6 L401.0,608.2 L402.6,604.2 L403.9,597.8 L405.0,591.4 L406.1,586.9 L407.1,593.0 L408.2,603.4 L409.8,605.0 L410.9,610.6 L412.2,614.1 L413.8,613.8 L415.4,611.9 L417.0,610.9 L418.6,611.4 L420.2,609.8 L421.8,611.9 L423.4,609.0 L425.0,605.0 L426.6,598.6 L428.2,589.8 L429.8,585.8 L431.4,595.4 L432.4,602.6 L433.8,605.8 L435.4,609.0 L437.0,612.2 L438.6,615.1 L440.2,615.4 L444.2,615.4 L445.0,615.4 L446.3,613.0 L447.9,609.8 L449.5,609.0 L450.6,605.0 L451.7,600.7 L453.0,600.2 L454.3,602.6 L455.9,607.4 L457.5,611.4 L459.4,613.8 L461.0,614.6 L462.6,614.6 L464.2,613.5 L465.8,614.1 L467.4,614.6 L469.0,613.5 L470.6,613.0 L472.5,613.5" stroke="#ff0000" stroke-width="1.2"/>
<path d="M458.7,607.0 L459.1,601.6 L459.5,605.9 L460.0,595.1 L460.4,604.3 L460.9,596.0 L461.4,604.1 L462.0,596.8 L462.4,603.8 L462.9,597.4 L463.5,607.0 L464.0,598.8 L464.5,608.6 L465.2,600.0 L465.7,606.8 L466.2,600.3 L466.7,607.2 L467.3,599.4 L467.9,606.1 L468.3,595.8 L468.8,603.1 L469.4,598.1 L469.8,600.5 L470.3,596.2 L470.9,598.3 L471.2,594.1 L471.9,598.7 L472.2,592.5 L472.6,595.4 L473.1,590.9 L473.6,594.2 L474.0,589.1 L474.5,590.7 L475.0,584.0 L475.5,588.4 L475.9,578.6 L476.6,588.4 L477.0,575.3 L477.7,593.7 L478.2,581.8 L478.7,592.0 L479.2,579.8 L479.6,595.0 L480.2,581.3 L480.6,589.4 L481.3,570.3 L481.9,595.8 L482.3,581.8 L482.9,594.1 L483.5,579.8 L484.1,597.4 L484.7,583.0 L485.3,599.2 L485.8,589.2 L486.4,602.4 L486.8,591.3 L487.3,602.1 L487.7,594.6 L488.1,604.0 L488.5,597.5 L488.9,600.5 L489.3,597.6 L489.7,597.9 L490.3,593.8 L490.7,594.8 L491.1,587.0 L491.5,590.5 L492.1,582.8 L492.4,589.8 L493.0,580.1 L493.5,589.2 L494.1,579.1 L494.6,588.2 L495.2,581.1 L495.6,591.3 L496.2,581.2 L496.9,596.5 L497.2,584.5 L497.8,597.3 L498.3,586.7 L498.9,602.4 L499.4,589.3 L499.9,604.6 L500.4,595.0 L501.0,606.0 L501.7,596.0 L502.1,607.5 L502.5,598.1 L503.0,608.3 L503.5,599.7 L503.8,607.9 L504.3,600.8 L504.8,610.3 L505.3,601.0 L505.7,611.4 L506.1,604.4 L506.6,611.8 L507.1,605.4 L507.6,612.8 L508.0,607.4 L508.4,613.8 L509.1,607.6 L509.5,616.1 L510.0,611.0 L510.6,615.0 L511.1,610.6 L511.4,616.0 L512.0,612.0 L512.3,616.1 L513.0,613.0 L513.5,615.9 L514.1,612.6 L514.6,615.5 L515.0,613.0 L515.4,615.9 L515.8,612.7 L516.4,615.2 L516.8,612.4 L517.2,615.9 L517.6,613.5 L518.2,615.9 L518.8,613.8 L519.4,615.7 L519.8,611.9 L520.2,615.6 L520.7,611.6 L521.3,613.2 L521.9,611.3 L522.3,616.1 L522.8,612.6 L523.3,615.5 L523.8,610.7 L524.3,613.2 L524.7,607.6 L525.0,608.3 L525.7,607.0 L526.3,610.4 L526.8,607.8 L527.3,611.6 L527.7,609.2 L528.3,612.7 L528.7,611.0 L529.3,614.0 L529.9,612.0 L530.5,615.0 L530.9,612.5 L531.4,615.4 L531.9,613.3 L532.5,615.1 L533.0,613.7 L533.5,616.1 L534.2,612.9 L534.7,616.1 L535.3,612.3 L535.7,615.8 L536.3,612.0 L536.7,616.1 L537.2,613.0 L537.6,616.1 L538.1,612.4 L538.5,613.8 L539.0,611.7 L539.4,614.7 L540.0,611.6 L540.5,614.3 L541.0,611.0 L541.4,615.1 L541.9,613.1 L542.3,615.9 L542.8,613.1 L543.4,616.1 L543.8,614.4 L544.2,616.1 L544.6,613.3 L545.1,616.1 L545.6,613.8 L546.3,616.1 L546.7,612.4 L547.2,615.5 L547.7,611.8 L548.1,614.1 L548.7,610.6 L549.4,611.9 L549.7,609.2 L550.3,612.3 L550.7,607.5 L551.1,610.9 L551.6,608.4 L552.1,610.7 L552.6,607.9 L553.2,610.9 L553.7,609.3 L554.3,611.6 L554.8,607.1 L555.2,610.4 L555.8,606.4 L556.3,608.7 L556.9,606.4 L557.4,608.4 L557.8,603.7 L558.3,606.2 L558.7,604.7 L559.1,607.6 L559.5,603.2 L560.0,603.8 L560.4,598.8 L561.1,597.6 L561.5,591.5 L562.0,592.3 L562.6,591.7 L563.2,598.9 L563.6,597.4 L564.2,599.1" stroke="#0000ff" stroke-width="1.2"/>
</g>
<rect x="79" y="90" width="6" height="1" fill="#000"/>
<rect x="564" y="90" width="6" height="1" fill="#000"/>
<rect x="82" y="87" width="3" height="1" fill="#000"/>
<rect x="564" y="87" width="3" height="1" fill="#000"/>
<rect x="82" y="84" width="3" height="1" fill="#000"/>
<rect x="564" y="84" width="3" height="1" fill="#000"/>
<rect x="82" y="81" width="3" height="1" fill="#000"/>
<rect x="564" y="81" width="3" height="1" fill="#000"/>
<rect x="79" y="78" width="6" height="1" fill="#000"/>
<rect x="564" y="78" width="6" height="1" fill="#000"/>
<rect x="82" y="74" width="3" height="1" fill="#000"/>
<rect x="564" y="74" width="3" height="1" fill="#000"/>
<rect x="82" y="71" width="3" height="1" fill="#000"/>
<rect x="564" y="71" width="3" height="1" fill="#000"/>
<rect x="82" y="68" width="3" height="1" fill="#000"/>
<rect x="564" y="68" width="3" height="1" fill="#000"/>
<rect x="79" y="65" width="6" height="1" fill="#000"/>
<rect x="564" y="65" width="6" height="1" fill="#000"/>
<rect x="82" y="61" width="3" height="1" fill="#000"/>
<rect x="564" y="61" width="3" height="1" fill="#000"/>
<rect x="82" y="58" width="3" height="1" fill="#000"/>
<rect x="564" y="58" width="3" height="1" fill="#000"/>
<rect x="82" y="55" width="3" height="1" fill="#000"/>
<rect x="564" y="55" width="3" height="1" fill="#000"/>
<rect x="79" y="52" width="6" height="1" fill="#000"/>
<rect x="564" y="52" width="6" height="1" fill="#000"/>
<rect x="82" y="49" width="3" height="1" fill="#000"/>
<rect x="564" y="49" width="3" height="1" fill="#000"/>
<rect x="82" y="45" width="3" height="1" fill="#000"/>
<rect x="564" y="45" width="3" height="1" fill="#000"/>
<rect x="82" y="42" width="3" height="1" fill="#000"/>
<rect x="564" y="42" width="3" height="1" fill="#000"/>
<rect x="79" y="39" width="6" height="1" fill="#000"/>
<rect x="564" y="39" width="6" height="1" fill="#000"/>
<text x="73.60" y="93.70" text-anchor="end" font-size="13.2">0</text>
<text x="73.60" y="80.96" text-anchor="end" font-size="13.2">25</text>
<text x="73.60" y="68.22" text-anchor="end" font-size="13.2">50</text>
<text x="73.60" y="55.48" text-anchor="end" font-size="13.2">75</text>
<text x="73.60" y="42.74" text-anchor="end" font-size="13.2">100</text>
<rect x="97" y="33" width="1" height="6" fill="#000"/>
<rect x="116" y="36" width="1" height="3" fill="#000"/>
<rect x="134" y="36" width="1" height="3" fill="#000"/>
<rect x="152" y="36" width="1" height="3" fill="#000"/>
<rect x="171" y="36" width="1" height="3" fill="#000"/>
<rect x="189" y="33" width="1" height="6" fill="#000"/>
<rect x="207" y="36" width="1" height="3" fill="#000"/>
<rect x="226" y="36" width="1" height="3" fill="#000"/>
<rect x="244" y="36" width="1" height="3" fill="#000"/>
<rect x="262" y="36" width="1" height="3" fill="#000"/>
<rect x="281" y="33" width="1" height="6" fill="#000"/>
<rect x="299" y="36" width="1" height="3" fill="#000"/>
<rect x="317" y="36" width="1" height="3" fill="#000"/>
<rect x="336" y="36" width="1" height="3" fill="#000"/>
<rect x="354" y="36" width="1" height="3" fill="#000"/>
<rect x="373" y="33" width="1" height="6" fill="#000"/>
<rect x="391" y="36" width="1" height="3" fill="#000"/>
<rect x="409" y="36" width="1" height="3" fill="#000"/>
<rect x="428" y="36" width="1" height="3" fill="#000"/>
<rect x="446" y="36" width="1" height="3" fill="#000"/>
<rect x="464" y="33" width="1" height="6" fill="#000"/>
<rect x="483" y="36" width="1" height="3" fill="#000"/>
<rect x="501" y="36" width="1" height="3" fill="#000"/>
<rect x="519" y="36" width="1" height="3" fill="#000"/>
<rect x="538" y="36" width="1" height="3" fill="#000"/>
<rect x="556" y="33" width="1" height="6" fill="#000"/>
<rect x="93" y="91" width="1" height="3" fill="#000"/>
<rect x="105" y="91" width="1" height="3" fill="#000"/>
<rect x="118" y="91" width="1" height="3" fill="#000"/>
<rect x="130" y="91" width="1" height="6" fill="#000"/>
<rect x="142" y="91" width="1" height="3" fill="#000"/>
<rect x="155" y="91" width="1" height="3" fill="#000"/>
<rect x="167" y="91" width="1" height="3" fill="#000"/>
<rect x="179" y="91" width="1" height="6" fill="#000"/>
<rect x="191" y="91" width="1" height="3" fill="#000"/>
<rect x="204" y="91" width="1" height="3" fill="#000"/>
<rect x="216" y="91" width="1" height="3" fill="#000"/>
<rect x="228" y="91" width="1" height="6" fill="#000"/>
<rect x="241" y="91" width="1" height="3" fill="#000"/>
<rect x="253" y="91" width="1" height="3" fill="#000"/>
<rect x="265" y="91" width="1" height="3" fill="#000"/>
<rect x="277" y="91" width="1" height="6" fill="#000"/>
<rect x="290" y="91" width="1" height="3" fill="#000"/>
<rect x="302" y="91" width="1" height="3" fill="#000"/>
<rect x="314" y="91" width="1" height="3" fill="#000"/>
<rect x="327" y="91" width="1" height="6" fill="#000"/>
<rect x="339" y="91" width="1" height="3" fill="#000"/>
<rect x="351" y="91" width="1" height="3" fill="#000"/>
<rect x="363" y="91" width="1" height="3" fill="#000"/>
<rect x="376" y="91" width="1" height="6" fill="#000"/>
<rect x="388" y="91" width="1" height="3" fill="#000"/>
<rect x="400" y="91" width="1" height="3" fill="#000"/>
<rect x="413" y="91" width="1" height="3" fill="#000"/>
<rect x="425" y="91" width="1" height="6" fill="#000"/>
<rect x="437" y="91" width="1" height="3" fill="#000"/>
<rect x="449" y="91" width="1" height="3" fill="#000"/>
<rect x="462" y="91" width="1" height="3" fill="#000"/>
<rect x="474" y="91" width="1" height="6" fill="#000"/>
<rect x="486" y="91" width="1" height="3" fill="#000"/>
<rect x="499" y="91" width="1" height="3" fill="#000"/>
<rect x="511" y="91" width="1" height="3" fill="#000"/>
<rect x="523" y="91" width="1" height="6" fill="#000"/>
<rect x="535" y="91" width="1" height="3" fill="#000"/>
<rect x="548" y="91" width="1" height="3" fill="#000"/>
<rect x="560" y="91" width="1" height="3" fill="#000"/>
<rect x="85" y="39" width="479" height="1" fill="#000"/>
<rect x="85" y="90" width="479" height="1" fill="#000"/>
<rect x="85" y="39" width="1" height="52" fill="#000"/>
<rect x="563" y="39" width="1" height="52" fill="#000"/>
<rect x="79" y="260" width="6" height="1" fill="#000"/>
<rect x="564" y="260" width="6" height="1" fill="#000"/>
<rect x="82" y="255" width="3" height="1" fill="#000"/>
<rect x="564" y="255" width="3" height="1" fill="#000"/>
<rect x="82" y="250" width="3" height="1" fill="#000"/>
<rect x="564" y="250" width="3" height="1" fill="#000"/>
<rect x="82" y="246" width="3" height="1" fill="#000"/>
<rect x="564" y="246" width="3" height="1" fill="#000"/>
<rect x="79" y="241" width="6" height="1" fill="#000"/>
<rect x="564" y="241" width="6" height="1" fill="#000"/>
<rect x="82" y="236" width="3" height="1" fill="#000"/>
<rect x="564" y="236" width="3" height="1" fill="#000"/>
<rect x="82" y="231" width="3" height="1" fill="#000"/>
<rect x="564" y="231" width="3" height="1" fill="#000"/>
<rect x="82" y="226" width="3" height="1" fill="#000"/>
<rect x="564" y="226" width="3" height="1" fill="#000"/>
<rect x="79" y="222" width="6" height="1" fill="#000"/>
<rect x="564" y="222" width="6" height="1" fill="#000"/>
<rect x="82" y="217" width="3" height="1" fill="#000"/>
<rect x="564" y="217" width="3" height="1" fill="#000"/>
<rect x="82" y="212" width="3" height="1" fill="#000"/>
<rect x="564" y="212" width="3" height="1" fill="#000"/>
<rect x="82" y="207" width="3" height="1" fill="#000"/>
<rect x="564" y="207" width="3" height="1" fill="#000"/>
<rect x="79" y="202" width="6" height="1" fill="#000"/>
<rect x="564" y="202" width="6" height="1" fill="#000"/>
<rect x="82" y="197" width="3" height="1" fill="#000"/>
<rect x="564" y="197" width="3" height="1" fill="#000"/>
<rect x="82" y="193" width="3" height="1" fill="#000"/>
<rect x="564" y="193" width="3" height="1" fill="#000"/>
<rect x="82" y="188" width="3" height="1" fill="#000"/>
<rect x="564" y="188" width="3" height="1" fill="#000"/>
<rect x="79" y="183" width="6" height="1" fill="#000"/>
<rect x="564" y="183" width="6" height="1" fill="#000"/>
<rect x="82" y="178" width="3" height="1" fill="#000"/>
<rect x="564" y="178" width="3" height="1" fill="#000"/>
<rect x="82" y="173" width="3" height="1" fill="#000"/>
<rect x="564" y="173" width="3" height="1" fill="#000"/>
<rect x="82" y="169" width="3" height="1" fill="#000"/>
<rect x="564" y="169" width="3" height="1" fill="#000"/>
<rect x="79" y="164" width="6" height="1" fill="#000"/>
<rect x="564" y="164" width="6" height="1" fill="#000"/>
<rect x="82" y="159" width="3" height="1" fill="#000"/>
<rect x="564" y="159" width="3" height="1" fill="#000"/>
<rect x="82" y="154" width="3" height="1" fill="#000"/>
<rect x="564" y="154" width="3" height="1" fill="#000"/>
<rect x="82" y="149" width="3" height="1" fill="#000"/>
<rect x="564" y="149" width="3" height="1" fill="#000"/>
<rect x="79" y="145" width="6" height="1" fill="#000"/>
<rect x="564" y="145" width="6" height="1" fill="#000"/>
<rect x="82" y="140" width="3" height="1" fill="#000"/>
<rect x="564" y="140" width="3" height="1" fill="#000"/>
<rect x="82" y="135" width="3" height="1" fill="#000"/>
<rect x="564" y="135" width="3" height="1" fill="#000"/>
<rect x="82" y="130" width="3" height="1" fill="#000"/>
<rect x="564" y="130" width="3" height="1" fill="#000"/>
<rect x="79" y="125" width="6" height="1" fill="#000"/>
<rect x="564" y="125" width="6" height="1" fill="#000"/>
<rect x="82" y="120" width="3" height="1" fill="#000"/>
<rect x="564" y="120" width="3" height="1" fill="#000"/>
<rect x="82" y="116" width="3" height="1" fill="#000"/>
<rect x="564" y="116" width="3" height="1" fill="#000"/>
<rect x="82" y="111" width="3" height="1" fill="#000"/>
<rect x="564" y="111" width="3" height="1" fill="#000"/>
<rect x="79" y="106" width="6" height="1" fill="#000"/>
<rect x="564" y="106" width="6" height="1" fill="#000"/>
<text x="73.60" y="263.80" text-anchor="end" font-size="13.2">0.0</text>
<text x="73.60" y="244.55" text-anchor="end" font-size="13.2">0.2</text>
<text x="73.60" y="225.30" text-anchor="end" font-size="13.2">0.4</text>
<text x="73.60" y="206.05" text-anchor="end" font-size="13.2">0.6</text>
<text x="73.60" y="186.80" text-anchor="end" font-size="13.2">0.8</text>
<text x="73.60" y="167.55" text-anchor="end" font-size="13.2">1.0</text>
<text x="73.60" y="148.30" text-anchor="end" font-size="13.2">1.2</text>
<text x="73.60" y="129.05" text-anchor="end" font-size="13.2">1.4</text>
<text x="73.60" y="109.80" text-anchor="end" font-size="13.2">1.6</text>
<rect x="97" y="100" width="1" height="6" fill="#000"/>
<rect x="116" y="103" width="1" height="3" fill="#000"/>
<rect x="134" y="103" width="1" height="3" fill="#000"/>
<rect x="152" y="103" width="1" height="3" fill="#000"/>
<rect x="171" y="103" width="1" height="3" fill="#000"/>
<rect x="189" y="100" width="1" height="6" fill="#000"/>
<rect x="207" y="103" width="1" height="3" fill="#000"/>
<rect x="226" y="103" width="1" height="3" fill="#000"/>
<rect x="244" y="103" width="1" height="3" fill="#000"/>
<rect x="262" y="103" width="1" height="3" fill="#000"/>
<rect x="281" y="100" width="1" height="6" fill="#000"/>
<rect x="299" y="103" width="1" height="3" fill="#000"/>
<rect x="317" y="103" width="1" height="3" fill="#000"/>
<rect x="336" y="103" width="1" height="3" fill="#000"/>
<rect x="354" y="103" width="1" height="3" fill="#000"/>
<rect x="373" y="100" width="1" height="6" fill="#000"/>
<rect x="391" y="103" width="1" height="3" fill="#000"/>
<rect x="409" y="103" width="1" height="3" fill="#000"/>
<rect x="428" y="103" width="1" height="3" fill="#000"/>
<rect x="446" y="103" width="1" height="3" fill="#000"/>
<rect x="464" y="100" width="1" height="6" fill="#000"/>
<rect x="483" y="103" width="1" height="3" fill="#000"/>
<rect x="501" y="103" width="1" height="3" fill="#000"/>
<rect x="519" y="103" width="1" height="3" fill="#000"/>
<rect x="538" y="103" width="1" height="3" fill="#000"/>
<rect x="556" y="100" width="1" height="6" fill="#000"/>
<rect x="93" y="261" width="1" height="3" fill="#000"/>
<rect x="105" y="261" width="1" height="3" fill="#000"/>
<rect x="118" y="261" width="1" height="3" fill="#000"/>
<rect x="130" y="261" width="1" height="6" fill="#000"/>
<rect x="142" y="261" width="1" height="3" fill="#000"/>
<rect x="155" y="261" width="1" height="3" fill="#000"/>
<rect x="167" y="261" width="1" height="3" fill="#000"/>
<rect x="179" y="261" width="1" height="6" fill="#000"/>
<rect x="191" y="261" width="1" height="3" fill="#000"/>
<rect x="204" y="261" width="1" height="3" fill="#000"/>
<rect x="216" y="261" width="1" height="3" fill="#000"/>
<rect x="228" y="261" width="1" height="6" fill="#000"/>
<rect x="241" y="261" width="1" height="3" fill="#000"/>
<rect x="253" y="261" width="1" height="3" fill="#000"/>
<rect x="265" y="261" width="1" height="3" fill="#000"/>
<rect x="277" y="261" width="1" height="6" fill="#000"/>
<rect x="290" y="261" width="1" height="3" fill="#000"/>
<rect x="302" y="261" width="1" height="3" fill="#000"/>
<rect x="314" y="261" width="1" height="3" fill="#000"/>
<rect x="327" y="261" width="1" height="6" fill="#000"/>
<rect x="339" y="261" width="1" height="3" fill="#000"/>
<rect x="351" y="261" width="1" height="3" fill="#000"/>
<rect x="363" y="261" width="1" height="3" fill="#000"/>
<rect x="376" y="261" width="1" height="6" fill="#000"/>
<rect x="388" y="261" width="1" height="3" fill="#000"/>
<rect x="400" y="261" width="1" height="3" fill="#000"/>
<rect x="413" y="261" width="1" height="3" fill="#000"/>
<rect x="425" y="261" width="1" height="6" fill="#000"/>
<rect x="437" y="261" width="1" height="3" fill="#000"/>
<rect x="449" y="261" width="1" height="3" fill="#000"/>
<rect x="462" y="261" width="1" height="3" fill="#000"/>
<rect x="474" y="261" width="1" height="6" fill="#000"/>
<rect x="486" y="261" width="1" height="3" fill="#000"/>
<rect x="499" y="261" width="1" height="3" fill="#000"/>
<rect x="511" y="261" width="1" height="3" fill="#000"/>
<rect x="523" y="261" width="1" height="6" fill="#000"/>
<rect x="535" y="261" width="1" height="3" fill="#000"/>
<rect x="548" y="261" width="1" height="3" fill="#000"/>
<rect x="560" y="261" width="1" height="3" fill="#000"/>
<rect x="85" y="106" width="479" height="1" fill="#000"/>
<rect x="85" y="260" width="479" height="1" fill="#000"/>
<rect x="85" y="106" width="1" height="155" fill="#000"/>
<rect x="563" y="106" width="1" height="155" fill="#000"/>
<rect x="79" y="379" width="6" height="1" fill="#000"/>
<rect x="564" y="379" width="6" height="1" fill="#000"/>
<rect x="82" y="374" width="3" height="1" fill="#000"/>
<rect x="564" y="374" width="3" height="1" fill="#000"/>
<rect x="82" y="369" width="3" height="1" fill="#000"/>
<rect x="564" y="369" width="3" height="1" fill="#000"/>
<rect x="82" y="363" width="3" height="1" fill="#000"/>
<rect x="564" y="363" width="3" height="1" fill="#000"/>
<rect x="82" y="358" width="3" height="1" fill="#000"/>
<rect x="564" y="358" width="3" height="1" fill="#000"/>
<rect x="79" y="353" width="6" height="1" fill="#000"/>
<rect x="564" y="353" width="6" height="1" fill="#000"/>
<rect x="82" y="348" width="3" height="1" fill="#000"/>
<rect x="564" y="348" width="3" height="1" fill="#000"/>
<rect x="82" y="343" width="3" height="1" fill="#000"/>
<rect x="564" y="343" width="3" height="1" fill="#000"/>
<rect x="82" y="338" width="3" height="1" fill="#000"/>
<rect x="564" y="338" width="3" height="1" fill="#000"/>
<rect x="82" y="332" width="3" height="1" fill="#000"/>
<rect x="564" y="332" width="3" height="1" fill="#000"/>
<rect x="79" y="327" width="6" height="1" fill="#000"/>
<rect x="564" y="327" width="6" height="1" fill="#000"/>
<rect x="82" y="322" width="3" height="1" fill="#000"/>
<rect x="564" y="322" width="3" height="1" fill="#000"/>
<rect x="82" y="317" width="3" height="1" fill="#000"/>
<rect x="564" y="317" width="3" height="1" fill="#000"/>
<rect x="82" y="312" width="3" height="1" fill="#000"/>
<rect x="564" y="312" width="3" height="1" fill="#000"/>
<rect x="82" y="307" width="3" height="1" fill="#000"/>
<rect x="564" y="307" width="3" height="1" fill="#000"/>
<rect x="79" y="302" width="6" height="1" fill="#000"/>
<rect x="564" y="302" width="6" height="1" fill="#000"/>
<rect x="82" y="296" width="3" height="1" fill="#000"/>
<rect x="564" y="296" width="3" height="1" fill="#000"/>
<rect x="82" y="291" width="3" height="1" fill="#000"/>
<rect x="564" y="291" width="3" height="1" fill="#000"/>
<rect x="82" y="286" width="3" height="1" fill="#000"/>
<rect x="564" y="286" width="3" height="1" fill="#000"/>
<rect x="82" y="281" width="3" height="1" fill="#000"/>
<rect x="564" y="281" width="3" height="1" fill="#000"/>
<rect x="79" y="276" width="6" height="1" fill="#000"/>
<rect x="564" y="276" width="6" height="1" fill="#000"/>
<text x="73.60" y="382.60" text-anchor="end" font-size="13.2">0.0</text>
<text x="73.60" y="356.88" text-anchor="end" font-size="13.2">0.1</text>
<text x="73.60" y="331.15" text-anchor="end" font-size="13.2">0.2</text>
<text x="73.60" y="305.43" text-anchor="end" font-size="13.2">0.3</text>
<text x="73.60" y="279.70" text-anchor="end" font-size="13.2">0.4</text>
<rect x="97" y="270" width="1" height="6" fill="#000"/>
<rect x="116" y="273" width="1" height="3" fill="#000"/>
<rect x="134" y="273" width="1" height="3" fill="#000"/>
<rect x="152" y="273" width="1" height="3" fill="#000"/>
<rect x="171" y="273" width="1" height="3" fill="#000"/>
<rect x="189" y="270" width="1" height="6" fill="#000"/>
<rect x="207" y="273" width="1" height="3" fill="#000"/>
<rect x="226" y="273" width="1" height="3" fill="#000"/>
<rect x="244" y="273" width="1" height="3" fill="#000"/>
<rect x="262" y="273" width="1" height="3" fill="#000"/>
<rect x="281" y="270" width="1" height="6" fill="#000"/>
<rect x="299" y="273" width="1" height="3" fill="#000"/>
<rect x="317" y="273" width="1" height="3" fill="#000"/>
<rect x="336" y="273" width="1" height="3" fill="#000"/>
<rect x="354" y="273" width="1" height="3" fill="#000"/>
<rect x="373" y="270" width="1" height="6" fill="#000"/>
<rect x="391" y="273" width="1" height="3" fill="#000"/>
<rect x="409" y="273" width="1" height="3" fill="#000"/>
<rect x="428" y="273" width="1" height="3" fill="#000"/>
<rect x="446" y="273" width="1" height="3" fill="#000"/>
<rect x="464" y="270" width="1" height="6" fill="#000"/>
<rect x="483" y="273" width="1" height="3" fill="#000"/>
<rect x="501" y="273" width="1" height="3" fill="#000"/>
<rect x="519" y="273" width="1" height="3" fill="#000"/>
<rect x="538" y="273" width="1" height="3" fill="#000"/>
<rect x="556" y="270" width="1" height="6" fill="#000"/>
<rect x="93" y="380" width="1" height="3" fill="#000"/>
<rect x="105" y="380" width="1" height="3" fill="#000"/>
<rect x="118" y="380" width="1" height="3" fill="#000"/>
<rect x="130" y="380" width="1" height="6" fill="#000"/>
<rect x="142" y="380" width="1" height="3" fill="#000"/>
<rect x="155" y="380" width="1" height="3" fill="#000"/>
<rect x="167" y="380" width="1" height="3" fill="#000"/>
<rect x="179" y="380" width="1" height="6" fill="#000"/>
<rect x="191" y="380" width="1" height="3" fill="#000"/>
<rect x="204" y="380" width="1" height="3" fill="#000"/>
<rect x="216" y="380" width="1" height="3" fill="#000"/>
<rect x="228" y="380" width="1" height="6" fill="#000"/>
<rect x="241" y="380" width="1" height="3" fill="#000"/>
<rect x="253" y="380" width="1" height="3" fill="#000"/>
<rect x="265" y="380" width="1" height="3" fill="#000"/>
<rect x="277" y="380" width="1" height="6" fill="#000"/>
<rect x="290" y="380" width="1" height="3" fill="#000"/>
<rect x="302" y="380" width="1" height="3" fill="#000"/>
<rect x="314" y="380" width="1" height="3" fill="#000"/>
<rect x="327" y="380" width="1" height="6" fill="#000"/>
<rect x="339" y="380" width="1" height="3" fill="#000"/>
<rect x="351" y="380" width="1" height="3" fill="#000"/>
<rect x="363" y="380" width="1" height="3" fill="#000"/>
<rect x="376" y="380" width="1" height="6" fill="#000"/>
<rect x="388" y="380" width="1" height="3" fill="#000"/>
<rect x="400" y="380" width="1" height="3" fill="#000"/>
<rect x="413" y="380" width="1" height="3" fill="#000"/>
<rect x="425" y="380" width="1" height="6" fill="#000"/>
<rect x="437" y="380" width="1" height="3" fill="#000"/>
<rect x="449" y="380" width="1" height="3" fill="#000"/>
<rect x="462" y="380" width="1" height="3" fill="#000"/>
<rect x="474" y="380" width="1" height="6" fill="#000"/>
<rect x="486" y="380" width="1" height="3" fill="#000"/>
<rect x="499" y="380" width="1" height="3" fill="#000"/>
<rect x="511" y="380" width="1" height="3" fill="#000"/>
<rect x="523" y="380" width="1" height="6" fill="#000"/>
<rect x="535" y="380" width="1" height="3" fill="#000"/>
<rect x="548" y="380" width="1" height="3" fill="#000"/>
<rect x="560" y="380" width="1" height="3" fill="#000"/>
<rect x="85" y="276" width="479" height="1" fill="#000"/>
<rect x="85" y="379" width="479" height="1" fill="#000"/>
<rect x="85" y="276" width="1" height="104" fill="#000"/>
<rect x="563" y="276" width="1" height="104" fill="#000"/>
<rect x="79" y="497" width="6" height="1" fill="#000"/>
<rect x="564" y="497" width="6" height="1" fill="#000"/>
<rect x="82" y="491" width="3" height="1" fill="#000"/>
<rect x="564" y="491" width="3" height="1" fill="#000"/>
<rect x="82" y="484" width="3" height="1" fill="#000"/>
<rect x="564" y="484" width="3" height="1" fill="#000"/>
<rect x="82" y="478" width="3" height="1" fill="#000"/>
<rect x="564" y="478" width="3" height="1" fill="#000"/>
<rect x="79" y="471" width="6" height="1" fill="#000"/>
<rect x="564" y="471" width="6" height="1" fill="#000"/>
<rect x="82" y="465" width="3" height="1" fill="#000"/>
<rect x="564" y="465" width="3" height="1" fill="#000"/>
<rect x="82" y="458" width="3" height="1" fill="#000"/>
<rect x="564" y="458" width="3" height="1" fill="#000"/>
<rect x="82" y="452" width="3" height="1" fill="#000"/>
<rect x="564" y="452" width="3" height="1" fill="#000"/>
<rect x="79" y="445" width="6" height="1" fill="#000"/>
<rect x="564" y="445" width="6" height="1" fill="#000"/>
<rect x="82" y="439" width="3" height="1" fill="#000"/>
<rect x="564" y="439" width="3" height="1" fill="#000"/>
<rect x="82" y="433" width="3" height="1" fill="#000"/>
<rect x="564" y="433" width="3" height="1" fill="#000"/>
<rect x="82" y="426" width="3" height="1" fill="#000"/>
<rect x="564" y="426" width="3" height="1" fill="#000"/>
<rect x="79" y="420" width="6" height="1" fill="#000"/>
<rect x="564" y="420" width="6" height="1" fill="#000"/>
<rect x="82" y="413" width="3" height="1" fill="#000"/>
<rect x="564" y="413" width="3" height="1" fill="#000"/>
<rect x="82" y="407" width="3" height="1" fill="#000"/>
<rect x="564" y="407" width="3" height="1" fill="#000"/>
<rect x="82" y="400" width="3" height="1" fill="#000"/>
<rect x="564" y="400" width="3" height="1" fill="#000"/>
<rect x="79" y="394" width="6" height="1" fill="#000"/>
<rect x="564" y="394" width="6" height="1" fill="#000"/>
<text x="73.60" y="500.80" text-anchor="end" font-size="13.2">0.00</text>
<text x="73.60" y="475.03" text-anchor="end" font-size="13.2">0.25</text>
<text x="73.60" y="449.25" text-anchor="end" font-size="13.2">0.50</text>
<text x="73.60" y="423.47" text-anchor="end" font-size="13.2">0.75</text>
<text x="73.60" y="397.70" text-anchor="end" font-size="13.2">1.00</text>
<rect x="97" y="388" width="1" height="6" fill="#000"/>
<rect x="116" y="391" width="1" height="3" fill="#000"/>
<rect x="134" y="391" width="1" height="3" fill="#000"/>
<rect x="152" y="391" width="1" height="3" fill="#000"/>
<rect x="171" y="391" width="1" height="3" fill="#000"/>
<rect x="189" y="388" width="1" height="6" fill="#000"/>
<rect x="207" y="391" width="1" height="3" fill="#000"/>
<rect x="226" y="391" width="1" height="3" fill="#000"/>
<rect x="244" y="391" width="1" height="3" fill="#000"/>
<rect x="262" y="391" width="1" height="3" fill="#000"/>
<rect x="281" y="388" width="1" height="6" fill="#000"/>
<rect x="299" y="391" width="1" height="3" fill="#000"/>
<rect x="317" y="391" width="1" height="3" fill="#000"/>
<rect x="336" y="391" width="1" height="3" fill="#000"/>
<rect x="354" y="391" width="1" height="3" fill="#000"/>
<rect x="373" y="388" width="1" height="6" fill="#000"/>
<rect x="391" y="391" width="1" height="3" fill="#000"/>
<rect x="409" y="391" width="1" height="3" fill="#000"/>
<rect x="428" y="391" width="1" height="3" fill="#000"/>
<rect x="446" y="391" width="1" height="3" fill="#000"/>
<rect x="464" y="388" width="1" height="6" fill="#000"/>
<rect x="483" y="391" width="1" height="3" fill="#000"/>
<rect x="501" y="391" width="1" height="3" fill="#000"/>
<rect x="519" y="391" width="1" height="3" fill="#000"/>
<rect x="538" y="391" width="1" height="3" fill="#000"/>
<rect x="556" y="388" width="1" height="6" fill="#000"/>
<rect x="93" y="498" width="1" height="3" fill="#000"/>
<rect x="105" y="498" width="1" height="3" fill="#000"/>
<rect x="118" y="498" width="1" height="3" fill="#000"/>
<rect x="130" y="498" width="1" height="6" fill="#000"/>
<rect x="142" y="498" width="1" height="3" fill="#000"/>
<rect x="155" y="498" width="1" height="3" fill="#000"/>
<rect x="167" y="498" width="1" height="3" fill="#000"/>
<rect x="179" y="498" width="1" height="6" fill="#000"/>
<rect x="191" y="498" width="1" height="3" fill="#000"/>
<rect x="204" y="498" width="1" height="3" fill="#000"/>
<rect x="216" y="498" width="1" height="3" fill="#000"/>
<rect x="228" y="498" width="1" height="6" fill="#000"/>
<rect x="241" y="498" width="1" height="3" fill="#000"/>
<rect x="253" y="498" width="1" height="3" fill="#000"/>
<rect x="265" y="498" width="1" height="3" fill="#000"/>
<rect x="277" y="498" width="1" height="6" fill="#000"/>
<rect x="290" y="498" width="1" height="3" fill="#000"/>
<rect x="302" y="498" width="1" height="3" fill="#000"/>
<rect x="314" y="498" width="1" height="3" fill="#000"/>
<rect x="327" y="498" width="1" height="6" fill="#000"/>
<rect x="339" y="498" width="1" height="3" fill="#000"/>
<rect x="351" y="498" width="1" height="3" fill="#000"/>
<rect x="363" y="498" width="1" height="3" fill="#000"/>
<rect x="376" y="498" width="1" height="6" fill="#000"/>
<rect x="388" y="498" width="1" height="3" fill="#000"/>
<rect x="400" y="498" width="1" height="3" fill="#000"/>
<rect x="413" y="498" width="1" height="3" fill="#000"/>
<rect x="425" y="498" width="1" height="6" fill="#000"/>
<rect x="437" y="498" width="1" height="3" fill="#000"/>
<rect x="449" y="498" width="1" height="3" fill="#000"/>
<rect x="462" y="498" width="1" height="3" fill="#000"/>
<rect x="474" y="498" width="1" height="6" fill="#000"/>
<rect x="486" y="498" width="1" height="3" fill="#000"/>
<rect x="499" y="498" width="1" height="3" fill="#000"/>
<rect x="511" y="498" width="1" height="3" fill="#000"/>
<rect x="523" y="498" width="1" height="6" fill="#000"/>
<rect x="535" y="498" width="1" height="3" fill="#000"/>
<rect x="548" y="498" width="1" height="3" fill="#000"/>
<rect x="560" y="498" width="1" height="3" fill="#000"/>
<rect x="85" y="394" width="479" height="1" fill="#000"/>
<rect x="85" y="497" width="479" height="1" fill="#000"/>
<rect x="85" y="394" width="1" height="104" fill="#000"/>
<rect x="563" y="394" width="1" height="104" fill="#000"/>
<rect x="79" y="616" width="6" height="1" fill="#000"/>
<rect x="564" y="616" width="6" height="1" fill="#000"/>
<rect x="82" y="611" width="3" height="1" fill="#000"/>
<rect x="564" y="611" width="3" height="1" fill="#000"/>
<rect x="82" y="606" width="3" height="1" fill="#000"/>
<rect x="564" y="606" width="3" height="1" fill="#000"/>
<rect x="82" y="600" width="3" height="1" fill="#000"/>
<rect x="564" y="600" width="3" height="1" fill="#000"/>
<rect x="82" y="595" width="3" height="1" fill="#000"/>
<rect x="564" y="595" width="3" height="1" fill="#000"/>
<rect x="79" y="590" width="6" height="1" fill="#000"/>
<rect x="564" y="590" width="6" height="1" fill="#000"/>
<rect x="82" y="585" width="3" height="1" fill="#000"/>
<rect x="564" y="585" width="3" height="1" fill="#000"/>
<rect x="82" y="580" width="3" height="1" fill="#000"/>
<rect x="564" y="580" width="3" height="1" fill="#000"/>
<rect x="82" y="575" width="3" height="1" fill="#000"/>
<rect x="564" y="575" width="3" height="1" fill="#000"/>
<rect x="82" y="570" width="3" height="1" fill="#000"/>
<rect x="564" y="570" width="3" height="1" fill="#000"/>
<rect x="79" y="564" width="6" height="1" fill="#000"/>
<rect x="564" y="564" width="6" height="1" fill="#000"/>
<rect x="82" y="559" width="3" height="1" fill="#000"/>
<rect x="564" y="559" width="3" height="1" fill="#000"/>
<rect x="82" y="554" width="3" height="1" fill="#000"/>
<rect x="564" y="554" width="3" height="1" fill="#000"/>
<rect x="82" y="549" width="3" height="1" fill="#000"/>
<rect x="564" y="549" width="3" height="1" fill="#000"/>
<rect x="82" y="544" width="3" height="1" fill="#000"/>
<rect x="564" y="544" width="3" height="1" fill="#000"/>
<rect x="79" y="539" width="6" height="1" fill="#000"/>
<rect x="564" y="539" width="6" height="1" fill="#000"/>
<rect x="82" y="533" width="3" height="1" fill="#000"/>
<rect x="564" y="533" width="3" height="1" fill="#000"/>
<rect x="82" y="528" width="3" height="1" fill="#000"/>
<rect x="564" y="528" width="3" height="1" fill="#000"/>
<rect x="82" y="523" width="3" height="1" fill="#000"/>
<rect x="564" y="523" width="3" height="1" fill="#000"/>
<rect x="82" y="518" width="3" height="1" fill="#000"/>
<rect x="564" y="518" width="3" height="1" fill="#000"/>
<rect x="79" y="513" width="6" height="1" fill="#000"/>
<rect x="564" y="513" width="6" height="1" fill="#000"/>
<text x="73.60" y="619.70" text-anchor="end" font-size="13.2">0.0</text>
<text x="73.60" y="593.92" text-anchor="end" font-size="13.2">0.1</text>
<text x="73.60" y="568.15" text-anchor="end" font-size="13.2">0.2</text>
<text x="73.60" y="542.37" text-anchor="end" font-size="13.2">0.3</text>
<text x="73.60" y="516.60" text-anchor="end" font-size="13.2">0.4</text>
<rect x="97" y="507" width="1" height="6" fill="#000"/>
<rect x="116" y="510" width="1" height="3" fill="#000"/>
<rect x="134" y="510" width="1" height="3" fill="#000"/>
<rect x="152" y="510" width="1" height="3" fill="#000"/>
<rect x="171" y="510" width="1" height="3" fill="#000"/>
<rect x="189" y="507" width="1" height="6" fill="#000"/>
<rect x="207" y="510" width="1" height="3" fill="#000"/>
<rect x="226" y="510" width="1" height="3" fill="#000"/>
<rect x="244" y="510" width="1" height="3" fill="#000"/>
<rect x="262" y="510" width="1" height="3" fill="#000"/>
<rect x="281" y="507" width="1" height="6" fill="#000"/>
<rect x="299" y="510" width="1" height="3" fill="#000"/>
<rect x="317" y="510" width="1" height="3" fill="#000"/>
<rect x="336" y="510" width="1" height="3" fill="#000"/>
<rect x="354" y="510" width="1" height="3" fill="#000"/>
<rect x="373" y="507" width="1" height="6" fill="#000"/>
<rect x="391" y="510" width="1" height="3" fill="#000"/>
<rect x="409" y="510" width="1" height="3" fill="#000"/>
<rect x="428" y="510" width="1" height="3" fill="#000"/>
<rect x="446" y="510" width="1" height="3" fill="#000"/>
<rect x="464" y="507" width="1" height="6" fill="#000"/>
<rect x="483" y="510" width="1" height="3" fill="#000"/>
<rect x="501" y="510" width="1" height="3" fill="#000"/>
<rect x="519" y="510" width="1" height="3" fill="#000"/>
<rect x="538" y="510" width="1" height="3" fill="#000"/>
<rect x="556" y="507" width="1" height="6" fill="#000"/>
<rect x="93" y="617" width="1" height="3" fill="#000"/>
<rect x="105" y="617" width="1" height="3" fill="#000"/>
<rect x="118" y="617" width="1" height="3" fill="#000"/>
<rect x="130" y="617" width="1" height="6" fill="#000"/>
<rect x="142" y="617" width="1" height="3" fill="#000"/>
<rect x="155" y="617" width="1" height="3" fill="#000"/>
<rect x="167" y="617" width="1" height="3" fill="#000"/>
<rect x="179" y="617" width="1" height="6" fill="#000"/>
<rect x="191" y="617" width="1" height="3" fill="#000"/>
<rect x="204" y="617" width="1" height="3" fill="#000"/>
<rect x="216" y="617" width="1" height="3" fill="#000"/>
<rect x="228" y="617" width="1" height="6" fill="#000"/>
<rect x="241" y="617" width="1" height="3" fill="#000"/>
<rect x="253" y="617" width="1" height="3" fill="#000"/>
<rect x="265" y="617" width="1" height="3" fill="#000"/>
<rect x="277" y="617" width="1" height="6" fill="#000"/>
<rect x="290" y="617" width="1" height="3" fill="#000"/>
<rect x="302" y="617" width="1" height="3" fill="#000"/>
<rect x="314" y="617" width="1" height="3" fill="#000"/>
<rect x="327" y="617" width="1" height="6" fill="#000"/>
<rect x="339" y="617" width="1" height="3" fill="#000"/>
<rect x="351" y="617" width="1" height="3" fill="#000"/>
<rect x="363" y="617" width="1" height="3" fill="#000"/>
<rect x="376" y="617" width="1" height="6" fill="#000"/>
<rect x="388" y="617" width="1" height="3" fill="#000"/>
<rect x="400" y="617" width="1" height="3" fill="#000"/>
<rect x="413" y="617" width="1" height="3" fill="#000"/>
<rect x="425" y="617" width="1" height="6" fill="#000"/>
<rect x="437" y="617" width="1" height="3" fill="#000"/>
<rect x="449" y="617" width="1" height="3" fill="#000"/>
<rect x="462" y="617" width="1" height="3" fill="#000"/>
<rect x="474" y="617" width="1" height="6" fill="#000"/>
<rect x="486" y="617" width="1" height="3" fill="#000"/>
<rect x="499" y="617" width="1" height="3" fill="#000"/>
<rect x="511" y="617" width="1" height="3" fill="#000"/>
<rect x="523" y="617" width="1" height="6" fill="#000"/>
<rect x="535" y="617" width="1" height="3" fill="#000"/>
<rect x="548" y="617" width="1" height="3" fill="#000"/>
<rect x="560" y="617" width="1" height="3" fill="#000"/>
<rect x="85" y="513" width="479" height="1" fill="#000"/>
<rect x="85" y="616" width="479" height="1" fill="#000"/>
<rect x="85" y="513" width="1" height="104" fill="#000"/>
<rect x="563" y="513" width="1" height="104" fill="#000"/>
<text x="97.82" y="26.00" text-anchor="middle" font-size="13.2">1900</text>
<text x="189.56" y="26.00" text-anchor="middle" font-size="13.2">1950</text>
<text x="281.30" y="26.00" text-anchor="middle" font-size="13.2">2000</text>
<text x="373.04" y="26.00" text-anchor="middle" font-size="13.2">2050</text>
<text x="464.78" y="26.00" text-anchor="middle" font-size="13.2">2100</text>
<text x="556.52" y="26.00" text-anchor="middle" font-size="13.2">2150</text>
<text x="324.60" y="9.60" text-anchor="middle" font-size="13.2" textLength="167.6" lengthAdjust="spacingAndGlyphs">Carrington Rotation Number</text>
<text x="130.55" y="636.00" text-anchor="middle" font-size="13.2">1997</text>
<text x="179.69" y="636.00" text-anchor="middle" font-size="13.2">1999</text>
<text x="228.83" y="636.00" text-anchor="middle" font-size="13.2">2001</text>
<text x="277.97" y="636.00" text-anchor="middle" font-size="13.2">2003</text>
<text x="327.11" y="636.00" text-anchor="middle" font-size="13.2">2005</text>
<text x="376.25" y="636.00" text-anchor="middle" font-size="13.2">2007</text>
<text x="425.39" y="636.00" text-anchor="middle" font-size="13.2">2009</text>
<text x="474.53" y="636.00" text-anchor="middle" font-size="13.2">2011</text>
<text x="523.67" y="636.00" text-anchor="middle" font-size="13.2">2013</text>
<text x="323.90" y="654.60" text-anchor="middle" font-size="13.2" textLength="26" lengthAdjust="spacingAndGlyphs">Year</text>
<text x="94.70" y="60.00" text-anchor="start" font-size="11.5">[a]</text>
<text x="94.70" y="129.50" text-anchor="start" font-size="11.5">[b]</text>
<text x="94.70" y="296.70" text-anchor="start" font-size="11.5">[c]</text>
<text x="94.70" y="415.20" text-anchor="start" font-size="11.5">[d]</text>
<text x="94.70" y="533.80" text-anchor="start" font-size="11.5">[e]</text>
<text transform="translate(18.20,64.80) rotate(-90)" text-anchor="middle" font-size="13.2" textLength="48.06" lengthAdjust="spacingAndGlyphs">Monthly</text>
<text transform="translate(30.50,65.30) rotate(-90)" text-anchor="middle" font-size="13.2" textLength="45.33" lengthAdjust="spacingAndGlyphs">Sunspot</text>
<text transform="translate(43.70,65.50) rotate(-90)" text-anchor="middle" font-size="13.2" textLength="45.33" lengthAdjust="spacingAndGlyphs">Number</text>
<text transform="translate(21.20,183.35) rotate(-90)" text-anchor="middle" font-size="13.2" textLength="40.41" lengthAdjust="spacingAndGlyphs">[-90:90]</text>
<text transform="translate(34.40,183.00) rotate(-90)" text-anchor="middle" font-size="13.2" textLength="89.43" lengthAdjust="spacingAndGlyphs">Unsigned Open</text>
<text transform="translate(47.50,183.55) rotate(-90)" text-anchor="middle" font-size="13.2" textLength="76.68" lengthAdjust="spacingAndGlyphs">Flux 10<tspan font-size="9.2" dy="-4.6">23</tspan><tspan dy="4.6">Mx</tspan></text>
<text transform="translate(17.00,327.40) rotate(-90)" text-anchor="middle" font-size="13.2" textLength="59.87" lengthAdjust="spacingAndGlyphs">[55:90] NP</text>
<text transform="translate(31.30,327.20) rotate(-90)" text-anchor="middle" font-size="13.2" textLength="62.63" lengthAdjust="spacingAndGlyphs">Open Flux</text>
<text transform="translate(46.70,327.30) rotate(-90)" text-anchor="middle" font-size="13.2" textLength="51.73" lengthAdjust="spacingAndGlyphs">(10<tspan font-size="9.2" dy="-4.6">23</tspan><tspan dy="4.6">Mx)</tspan></text>
<text transform="translate(10.65,445.45) rotate(-90)" text-anchor="middle" font-size="13.2" textLength="62.56" lengthAdjust="spacingAndGlyphs">[-55:55] LL</text>
<text transform="translate(24.10,445.05) rotate(-90)" text-anchor="middle" font-size="13.2" textLength="62.12" lengthAdjust="spacingAndGlyphs">Open Flux</text>
<text transform="translate(39.50,446.00) rotate(-90)" text-anchor="middle" font-size="13.2" textLength="50.7" lengthAdjust="spacingAndGlyphs">(10<tspan font-size="9.2" dy="-4.6">23</tspan><tspan dy="4.6">Mx)</tspan></text>
<text transform="translate(17.00,564.15) rotate(-90)" text-anchor="middle" font-size="13.2" textLength="60.77" lengthAdjust="spacingAndGlyphs">[-90:55] SP</text>
<text transform="translate(30.80,563.55) rotate(-90)" text-anchor="middle" font-size="13.2" textLength="62.73" lengthAdjust="spacingAndGlyphs">Open Flux</text>
<text transform="translate(46.60,564.20) rotate(-90)" text-anchor="middle" font-size="13.2" textLength="50.7" lengthAdjust="spacingAndGlyphs">(10<tspan font-size="9.2" dy="-4.6">23</tspan><tspan dy="4.6">Mx)</tspan></text>
<line x1="464.90" y1="117.10" x2="477.90" y2="117.10" stroke="#000" stroke-width="1.3"/>
<text x="487.20" y="120.40" text-anchor="start" font-size="8.9" textLength="23.7" lengthAdjust="spacingAndGlyphs">WSO</text>
<line x1="464.90" y1="129.17" x2="477.90" y2="129.17" stroke="#ff7f0e" stroke-width="1.3"/>
<text x="487.20" y="132.47" text-anchor="start" font-size="8.9" textLength="50" lengthAdjust="spacingAndGlyphs">OMNI IMF</text>
<line x1="464.90" y1="141.24" x2="477.90" y2="141.24" stroke="#ff0000" stroke-width="1.3"/>
<text x="487.20" y="144.54" text-anchor="start" font-size="8.9" textLength="36" lengthAdjust="spacingAndGlyphs">EIT CH</text>
<line x1="464.90" y1="153.31" x2="477.90" y2="153.31" stroke="#0000ff" stroke-width="1.3"/>
<text x="487.20" y="156.61" text-anchor="start" font-size="8.9" textLength="68.4" lengthAdjust="spacingAndGlyphs">AIA/EUVI CH</text>
</svg></body></html>
